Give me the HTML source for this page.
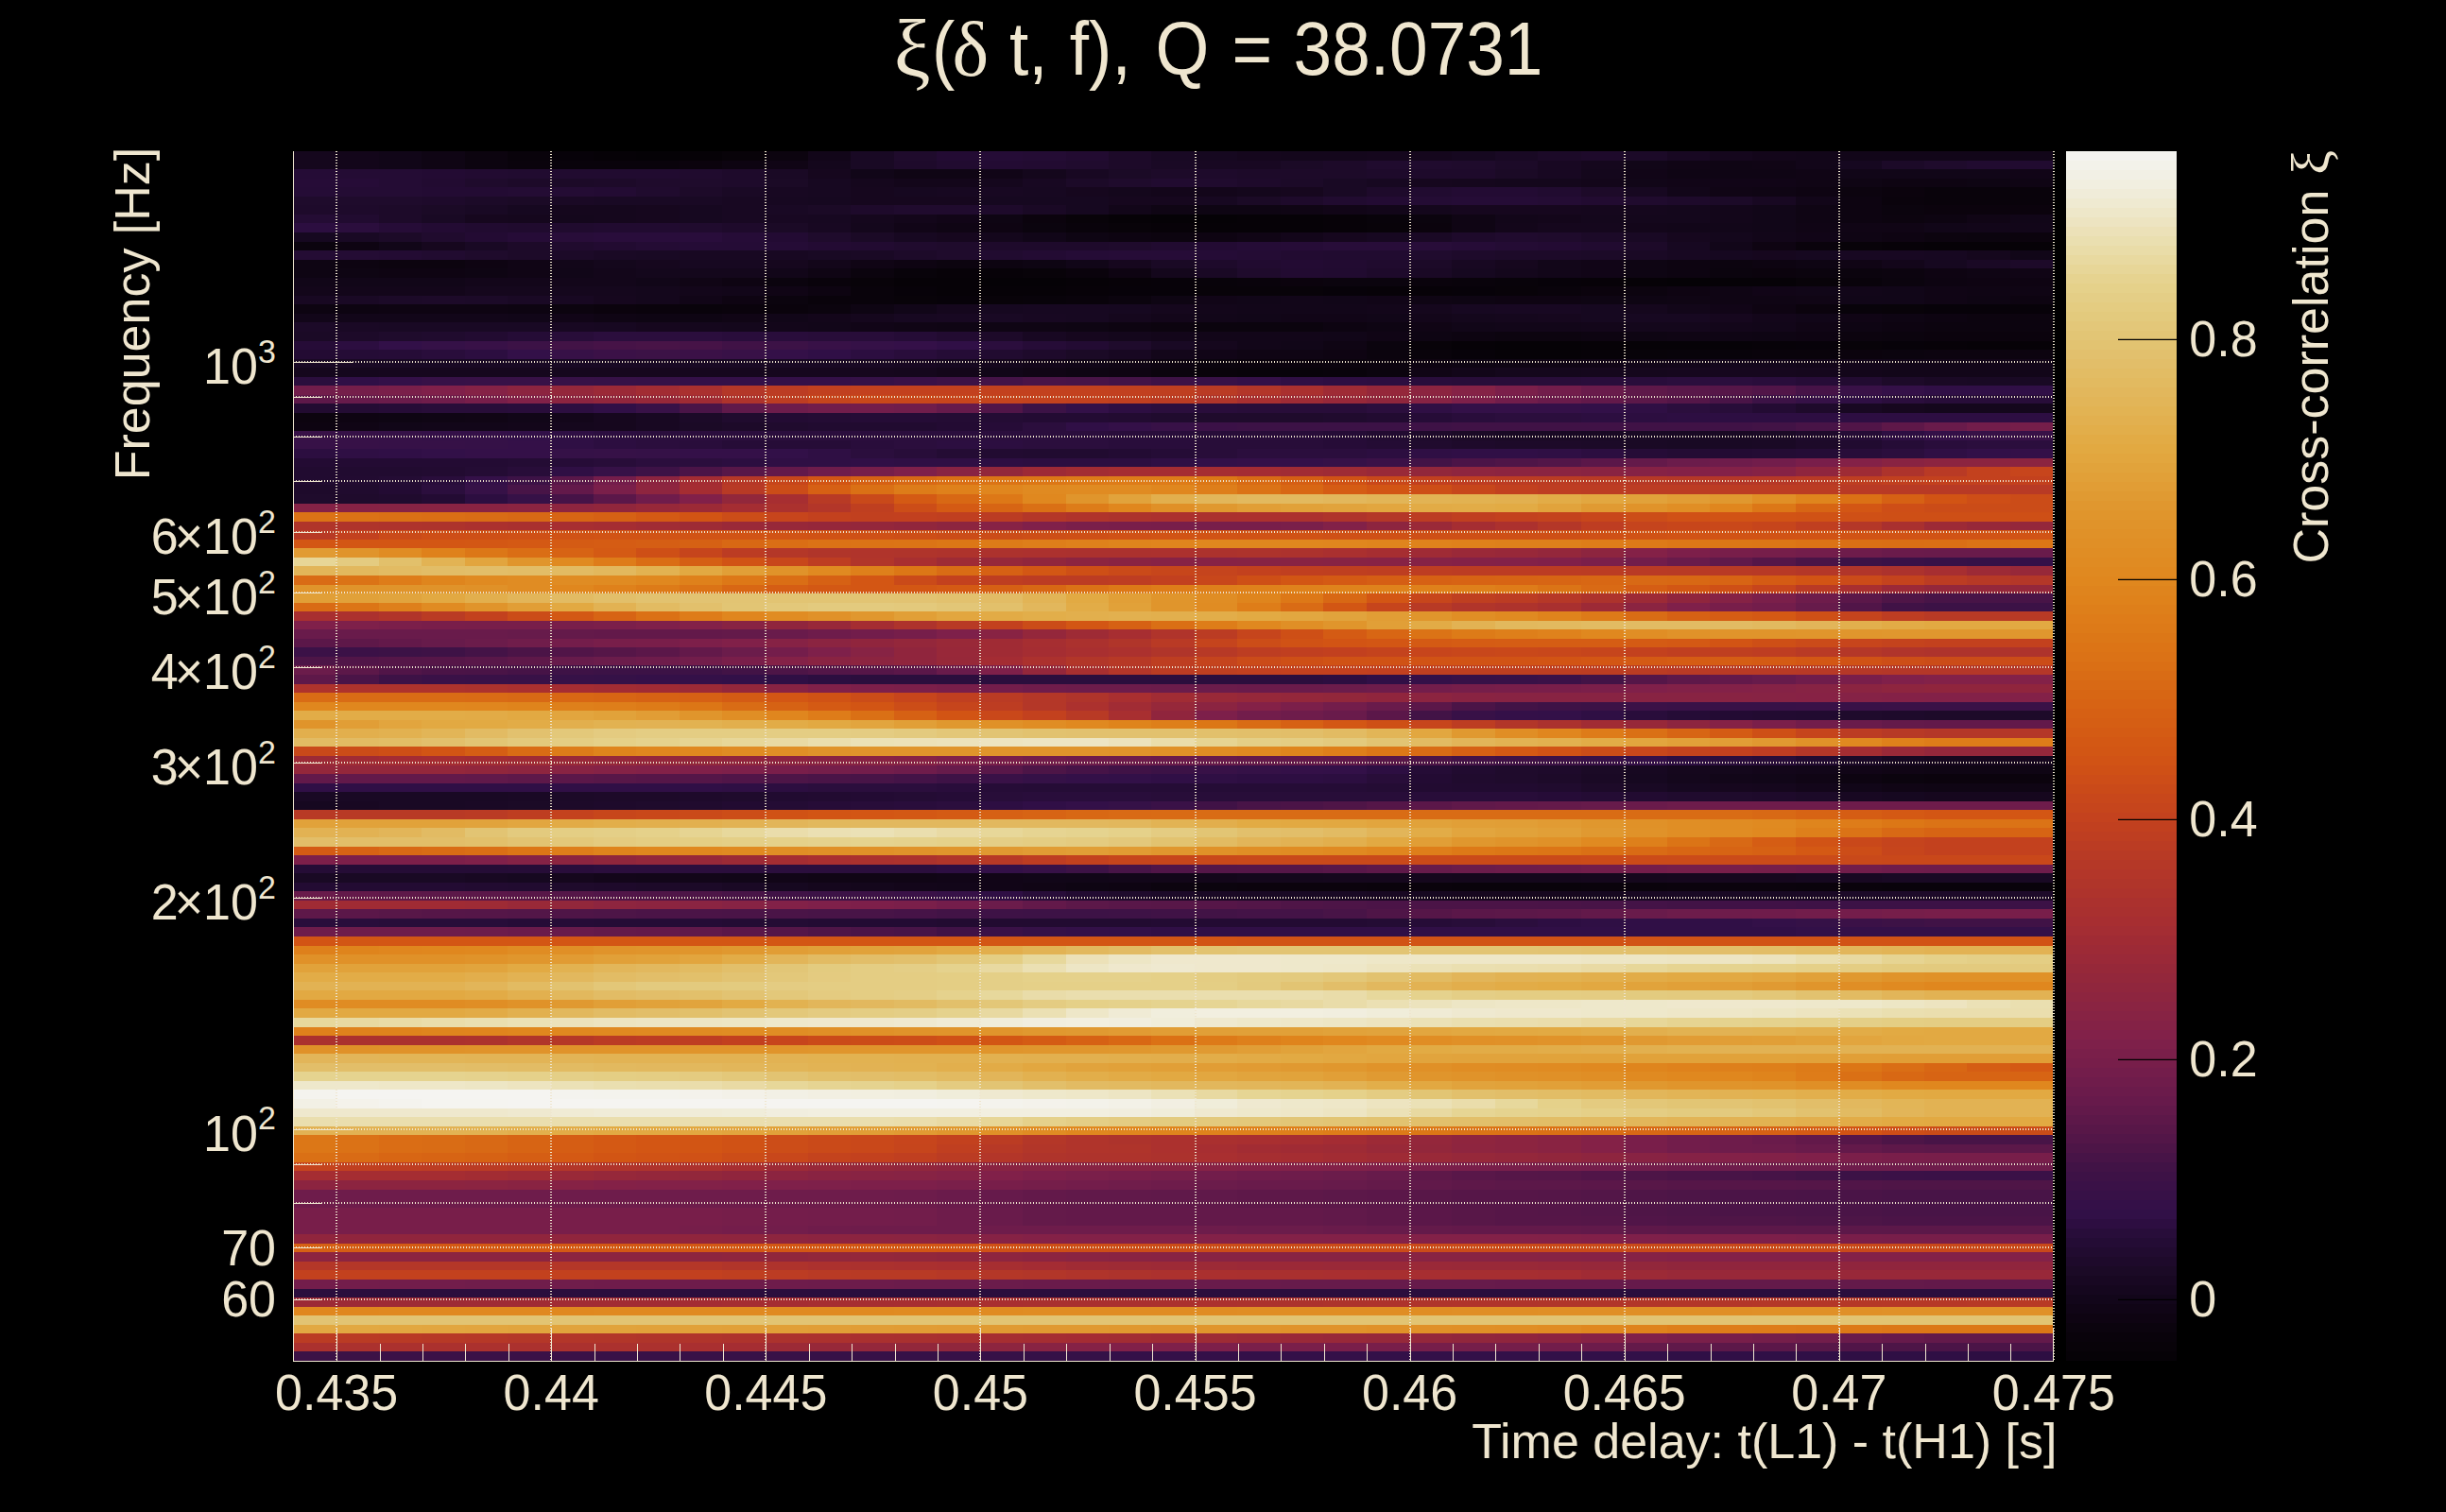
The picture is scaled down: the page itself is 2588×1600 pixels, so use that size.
<!DOCTYPE html>
<html><head><meta charset="utf-8"><style>html,body{margin:0;padding:0;background:#000;width:2588px;height:1600px;overflow:hidden;position:relative}#hm{position:absolute;left:310px;top:160px;width:1862px;height:1280px}#hm b{display:flex;width:100%}#hm i{flex:1 1 0;height:100%}.c0{background:#15071d}.c1{background:#13061a}.c2{background:#110618}.c3{background:#0f0514}.c4{background:#0c040f}.c5{background:#09030b}.c6{background:#070209}.c7{background:#060207}.c8{background:#050206}.c9{background:#080309}.c10{background:#120619}.c11{background:#190924}.c12{background:#1f0b2c}.c13{background:#230b33}.c14{background:#250c36}.c15{background:#240c34}.c16{background:#220b31}.c17{background:#1d0a29}.c18{background:#160820}.c19{background:#14071c}.c20{background:#1c0a28}.c21{background:#1e0a2b}.c22{background:#180822}.c23{background:#0a030c}.c24{background:#0b030d}.c25{background:#0d0411}.c26{background:#100515}.c27{background:#210b30}.c28{background:#200b2e}.c29{background:#1a0925}.c30{background:#1b0a26}.c31{background:#16071e}.c32{background:#110517}.c33{background:#260c37}.c34{background:#170821}.c35{background:#0e0412}.c36{background:#0e0513}.c37{background:#0b040e}.c38{background:#070208}.c39{background:#08030a}.c40{background:#2c0e40}.c41{background:#2b0e3d}.c42{background:#280d39}.c43{background:#290d3b}.c44{background:#321048}.c45{background:#351147}.c46{background:#381147}.c47{background:#3c1246}.c48{background:#421346}.c49{background:#461347}.c50{background:#481447}.c51{background:#401246}.c52{background:#341048}.c53{background:#300f46}.c54{background:#331048}.c55{background:#371147}.c56{background:#3b1147}.c57{background:#361147}.c58{background:#391147}.c59{background:#3d1246}.c60{background:#441347}.c61{background:#4a1447}.c62{background:#2f0f44}.c63{background:#2d0e42}.c64{background:#721d4b}.c65{background:#751e4a}.c66{background:#7a1f4a}.c67{background:#80204a}.c68{background:#852246}.c69{background:#8c2440}.c70{background:#94273b}.c71{background:#9b2937}.c72{background:#a22c33}.c73{background:#aa302f}.c74{background:#b43728}.c75{background:#bc3c23}.c76{background:#c1401f}.c77{background:#c3411e}.c78{background:#c2401f}.c79{background:#bf3f20}.c80{background:#ba3b24}.c81{background:#b33629}.c82{background:#9f2b35}.c83{background:#95273a}.c84{background:#7b1f4a}.c85{background:#691b4b}.c86{background:#5e1849}.c87{background:#591749}.c88{background:#561648}.c89{background:#511548}.c90{background:#671b4b}.c91{background:#6b1c4b}.c92{background:#701d4b}.c93{background:#781e4a}.c94{background:#822148}.c95{background:#91263c}.c96{background:#972839}.c97{background:#a02b34}.c98{background:#ae332c}.c99{background:#bd3d22}.c100{background:#c6451c}.c101{background:#c9481a}.c102{background:#c8471b}.c103{background:#c7451c}.c104{background:#c5441d}.c105{background:#c4421e}.c106{background:#c03f20}.c107{background:#bb3c23}.c108{background:#b0352a}.c109{background:#a82f30}.c110{background:#982839}.c111{background:#90263c}.c112{background:#872344}.c113{background:#7e204a}.c114{background:#6a1b4b}.c115{background:#63194a}.c116{background:#5c1849}.c117{background:#551648}.c118{background:#60194a}.c119{background:#6d1c4b}.c120{background:#731d4b}.c121{background:#661a4b}.c122{background:#3e1246}.c123{background:#4b1447}.c124{background:#4f1547}.c125{background:#531648}.c126{background:#5b1749}.c127{background:#641a4a}.c128{background:#6e1c4b}.c129{background:#791e4a}.c130{background:#842147}.c131{background:#892342}.c132{background:#581748}.c133{background:#761e4a}.c134{background:#7f204a}.c135{background:#882343}.c136{background:#92273b}.c137{background:#9d2a36}.c138{background:#a52d32}.c139{background:#a42c33}.c140{background:#a12c34}.c141{background:#9e2b35}.c142{background:#992938}.c143{background:#8e253f}.c144{background:#8b2441}.c145{background:#862245}.c146{background:#832148}.c147{background:#8f253e}.c148{background:#ad332c}.c149{background:#b93a25}.c150{background:#741d4b}.c151{background:#b63827}.c152{background:#c7461b}.c153{background:#d25514}.c154{background:#d66114}.c155{background:#d86915}.c156{background:#da6f15}.c157{background:#db7416}.c158{background:#dc7716}.c159{background:#dd7a18}.c160{background:#de7c19}.c161{background:#d96b15}.c162{background:#d55f14}.c163{background:#d05215}.c164{background:#be3d22}.c165{background:#b73926}.c166{background:#b53827}.c167{background:#be3e21}.c168{background:#b83a25}.c169{background:#cb4c18}.c170{background:#d66014}.c171{background:#da7015}.c172{background:#dd7c19}.c173{background:#df811b}.c174{background:#e0861e}.c175{background:#e08a21}.c176{background:#e08b22}.c177{background:#e0871e}.c178{background:#de7e1a}.c179{background:#db7316}.c180{background:#d86714}.c181{background:#d55c14}.c182{background:#cd4e17}.c183{background:#6f1c4b}.c184{background:#812049}.c185{background:#a72e31}.c186{background:#c9491a}.c187{background:#d45a14}.c188{background:#d86814}.c189{background:#dd7817}.c190{background:#e0881f}.c191{background:#e0952c}.c192{background:#e1a33c}.c193{background:#e2af4d}.c194{background:#e2b65a}.c195{background:#e2b95f}.c196{background:#e2b75c}.c197{background:#e2b557}.c198{background:#e2b354}.c199{background:#e2b251}.c200{background:#e2b04f}.c201{background:#e2ac47}.c202{background:#e2a740}.c203{background:#e1a23a}.c204{background:#e19d35}.c205{background:#e0982f}.c206{background:#e08f26}.c207{background:#df851d}.c208{background:#db7115}.c209{background:#d25414}.c210{background:#ce4e17}.c211{background:#872245}.c212{background:#9c2a36}.c213{background:#ab312e}.c214{background:#cc4d18}.c215{background:#d76514}.c216{background:#e09027}.c217{background:#e19e36}.c218{background:#e1a139}.c219{background:#e2a63f}.c220{background:#e2ab46}.c221{background:#e2ab44}.c222{background:#e09a32}.c223{background:#e0932a}.c224{background:#e08e25}.c225{background:#dc7717}.c226{background:#d35614}.c227{background:#db7216}.c228{background:#da6e15}.c229{background:#d96c15}.c230{background:#b0342b}.c231{background:#ac312e}.c232{background:#af342b}.c233{background:#c4431d}.c234{background:#d05116}.c235{background:#d15315}.c236{background:#cf5016}.c237{background:#ce4f16}.c238{background:#a9302f}.c239{background:#9a2938}.c240{background:#8d253f}.c241{background:#ca4a19}.c242{background:#d35714}.c243{background:#d45914}.c244{background:#d45b14}.c245{background:#d55e14}.c246{background:#dd7b18}.c247{background:#df841c}.c248{background:#e0851d}.c249{background:#df831c}.c250{background:#de801b}.c251{background:#de7d19}.c252{background:#dc7616}.c253{background:#e19b33}.c254{background:#e0942b}.c255{background:#e08c23}.c256{background:#d76314}.c257{background:#ac322d}.c258{background:#a62e31}.c259{background:#7d1f4a}.c260{background:#e7d697}.c261{background:#e4cb80}.c262{background:#e2c06b}.c263{background:#e2a53e}.c264{background:#da6d15}.c265{background:#b1352a}.c266{background:#96283a}.c267{background:#3a1147}.c268{background:#e2b559}.c269{background:#e2b85e}.c270{background:#e2bb63}.c271{background:#e2bd67}.c272{background:#e2be69}.c273{background:#e2b85d}.c274{background:#e2a942}.c275{background:#e19f37}.c276{background:#d25614}.c277{background:#d76414}.c278{background:#cb4b19}.c279{background:#e09128}.c280{background:#d55d14}.c281{background:#d35814}.c282{background:#dd7917}.c283{background:#df821c}.c284{background:#d96a15}.c285{background:#e1a43d}.c286{background:#e2bf6a}.c287{background:#e2c26f}.c288{background:#e2c372}.c289{background:#e2c473}.c290{background:#e2c16e}.c291{background:#e2bc65}.c292{background:#e2b456}.c293{background:#e2aa43}.c294{background:#e08d24}.c295{background:#90253d}.c296{background:#dc7516}.c297{background:#e2b253}.c298{background:#e2bb62}.c299{background:#e2c06c}.c300{background:#e2c574}.c301{background:#e3c87a}.c302{background:#e3ca7e}.c303{background:#e3c97c}.c304{background:#e2c677}.c305{background:#e0972e}.c306{background:#e2ae4a}.c307{background:#e2ad49}.c308{background:#d86614}.c309{background:#de7f1a}.c310{background:#e09229}.c311{background:#e0962d}.c312{background:#a92f30}.c313{background:#4d1547}.c314{background:#b23629}.c315{background:#d66214}.c316{background:#e08920}.c317{background:#e2b150}.c318{background:#e4cd83}.c319{background:#e4cc82}.c320{background:#e3c778}.c321{background:#e09930}.c322{background:#e2bd66}.c323{background:#e5d088}.c324{background:#e5d28d}.c325{background:#e6d492}.c326{background:#e7d799}.c327{background:#e9daa4}.c328{background:#eadeae}.c329{background:#ebe1b6}.c330{background:#ece1b8}.c331{background:#ece2bb}.c332{background:#ede4c0}.c333{background:#ede5c3}.c334{background:#eaddab}.c335{background:#e4cf87}.c336{background:#e09931}.c337{background:#61194a}.c338{background:#e2ae4c}.c339{background:#e2a841}.c340{background:#e4ce84}.c341{background:#e5d18a}.c342{background:#e7d89c}.c343{background:#ebe0b3}.c344{background:#e5d38f}.c345{background:#e4ce86}.c346{background:#e3c87b}.c347{background:#e2c370}.c348{background:#e19c34}.c349{background:#8a2442}.c350{background:#e1a038}.c351{background:#ede6c5}.c352{background:#efe8cd}.c353{background:#eee8cb}.c354{background:#eee7c8}.c355{background:#ece3bd}.c356{background:#eadfb0}.c357{background:#e8d9a1}.c358{background:#e3cb7f}.c359{background:#efe9d0}.c360{background:#e5d18b}.c361{background:#e1a33b}.c362{background:#e9dca9}.c363{background:#e6d594}.c364{background:#f0ebd5}.c365{background:#f1eedd}.c366{background:#f2efe0}.c367{background:#f1eedf}.c368{background:#f0edda}.c369{background:#e9dba6}.c370{background:#e2ba61}.c371{background:#f4f3ee}.c372{background:#f5f4f1}.c373{background:#f4f3ed}.c374{background:#f4f2eb}.c375{background:#f3f1e8}.c376{background:#f2f0e5}.c377{background:#f2efe2}.c378{background:#f5f4f0}.c379{background:#f3f2ea}.c380{background:#f3f1e7}.c381{background:#f0ecd8}</style></head><body>
<div id="hm"><b style="height:10px"><i class=c0></i><i class=c1></i><i class=c2></i><i class=c3></i><i class=c4></i><i class=c5></i><i class=c6></i><i class=c7></i><i class=c8></i><i class=c7></i><i class=c9></i><i class=c4></i><i class=c10></i><i class=c11></i><i class=c12></i><i class=c13></i><i class=c14></i><i class=c15></i><i class=c16></i><i class=c17></i><i class=c11></i><i class=c18></i><i class=c0></i><i class=c19></i><i class=c19></i><i class=c0></i><i class=c0></i><i class=c18></i><i class=c11></i><i class=c20></i><i class=c21></i><i class=c20></i><i class=c22></i><i class=c0></i><i class=c1></i><i class=c10></i><i class=c10></i><i class=c10></i><i class=c10></i><i class=c10></i><i class=c10></i></b><b style="height:9px"><i class=c0></i><i class=c1></i><i class=c2></i><i class=c3></i><i class=c4></i><i class=c23></i><i class=c5></i><i class=c5></i><i class=c5></i><i class=c24></i><i class=c25></i><i class=c26></i><i class=c19></i><i class=c11></i><i class=c21></i><i class=c27></i><i class=c13></i><i class=c16></i><i class=c28></i><i class=c17></i><i class=c29></i><i class=c22></i><i class=c22></i><i class=c30></i><i class=c17></i><i class=c28></i><i class=c28></i><i class=c12></i><i class=c20></i><i class=c22></i><i class=c0></i><i class=c2></i><i class=c26></i><i class=c3></i><i class=c26></i><i class=c10></i><i class=c18></i><i class=c20></i><i class=c12></i><i class=c27></i><i class=c27></i></b><b style="height:10px"><i class=c14></i><i class=c15></i><i class=c15></i><i class=c13></i><i class=c16></i><i class=c27></i><i class=c27></i><i class=c27></i><i class=c27></i><i class=c28></i><i class=c21></i><i class=c29></i><i class=c31></i><i class=c2></i><i class=c3></i><i class=c3></i><i class=c32></i><i class=c19></i><i class=c22></i><i class=c30></i><i class=c17></i><i class=c21></i><i class=c17></i><i class=c17></i><i class=c17></i><i class=c21></i><i class=c21></i><i class=c21></i><i class=c30></i><i class=c22></i><i class=c19></i><i class=c32></i><i class=c3></i><i class=c3></i><i class=c3></i><i class=c26></i><i class=c2></i><i class=c2></i><i class=c2></i><i class=c2></i><i class=c32></i></b><b style="height:9px"><i class=c33></i><i class=c33></i><i class=c15></i><i class=c16></i><i class=c12></i><i class=c17></i><i class=c20></i><i class=c17></i><i class=c12></i><i class=c12></i><i class=c21></i><i class=c30></i><i class=c34></i><i class=c0></i><i class=c1></i><i class=c1></i><i class=c0></i><i class=c22></i><i class=c20></i><i class=c12></i><i class=c27></i><i class=c28></i><i class=c21></i><i class=c20></i><i class=c11></i><i class=c34></i><i class=c31></i><i class=c0></i><i class=c19></i><i class=c19></i><i class=c1></i><i class=c2></i><i class=c32></i><i class=c32></i><i class=c32></i><i class=c26></i><i class=c3></i><i class=c35></i><i class=c35></i><i class=c36></i><i class=c3></i></b><b style="height:10px"><i class=c14></i><i class=c15></i><i class=c15></i><i class=c13></i><i class=c13></i><i class=c15></i><i class=c15></i><i class=c13></i><i class=c28></i><i class=c17></i><i class=c29></i><i class=c22></i><i class=c34></i><i class=c31></i><i class=c18></i><i class=c34></i><i class=c22></i><i class=c34></i><i class=c31></i><i class=c19></i><i class=c1></i><i class=c1></i><i class=c19></i><i class=c31></i><i class=c11></i><i class=c21></i><i class=c27></i><i class=c13></i><i class=c13></i><i class=c27></i><i class=c17></i><i class=c34></i><i class=c10></i><i class=c26></i><i class=c3></i><i class=c35></i><i class=c4></i><i class=c24></i><i class=c5></i><i class=c5></i><i class=c5></i></b><b style="height:9px"><i class=c12></i><i class=c12></i><i class=c12></i><i class=c21></i><i class=c20></i><i class=c30></i><i class=c29></i><i class=c11></i><i class=c11></i><i class=c11></i><i class=c22></i><i class=c34></i><i class=c18></i><i class=c31></i><i class=c31></i><i class=c31></i><i class=c18></i><i class=c18></i><i class=c18></i><i class=c31></i><i class=c31></i><i class=c34></i><i class=c30></i><i class=c21></i><i class=c27></i><i class=c13></i><i class=c15></i><i class=c14></i><i class=c14></i><i class=c15></i><i class=c16></i><i class=c28></i><i class=c21></i><i class=c20></i><i class=c22></i><i class=c10></i><i class=c25></i><i class=c23></i><i class=c5></i><i class=c5></i><i class=c5></i></b><b style="height:10px"><i class=c21></i><i class=c21></i><i class=c17></i><i class=c30></i><i class=c11></i><i class=c18></i><i class=c0></i><i class=c0></i><i class=c31></i><i class=c18></i><i class=c22></i><i class=c11></i><i class=c30></i><i class=c21></i><i class=c28></i><i class=c28></i><i class=c21></i><i class=c29></i><i class=c18></i><i class=c10></i><i class=c3></i><i class=c36></i><i class=c36></i><i class=c3></i><i class=c32></i><i class=c10></i><i class=c19></i><i class=c31></i><i class=c31></i><i class=c31></i><i class=c0></i><i class=c0></i><i class=c19></i><i class=c1></i><i class=c2></i><i class=c3></i><i class=c25></i><i class=c37></i><i class=c24></i><i class=c24></i><i class=c24></i></b><b style="height:9px"><i class=c15></i><i class=c27></i><i class=c17></i><i class=c11></i><i class=c31></i><i class=c0></i><i class=c19></i><i class=c0></i><i class=c31></i><i class=c18></i><i class=c22></i><i class=c22></i><i class=c34></i><i class=c0></i><i class=c1></i><i class=c32></i><i class=c36></i><i class=c24></i><i class=c9></i><i class=c7></i><i class=c8></i><i class=c8></i><i class=c7></i><i class=c7></i><i class=c38></i><i class=c39></i><i class=c37></i><i class=c3></i><i class=c10></i><i class=c1></i><i class=c19></i><i class=c19></i><i class=c19></i><i class=c1></i><i class=c2></i><i class=c3></i><i class=c25></i><i class=c4></i><i class=c25></i><i class=c26></i><i class=c2></i></b><b style="height:10px"><i class=c40></i><i class=c41></i><i class=c33></i><i class=c13></i><i class=c27></i><i class=c28></i><i class=c28></i><i class=c27></i><i class=c27></i><i class=c28></i><i class=c21></i><i class=c30></i><i class=c22></i><i class=c19></i><i class=c32></i><i class=c3></i><i class=c35></i><i class=c37></i><i class=c5></i><i class=c9></i><i class=c38></i><i class=c7></i><i class=c7></i><i class=c7></i><i class=c38></i><i class=c9></i><i class=c24></i><i class=c3></i><i class=c1></i><i class=c0></i><i class=c0></i><i class=c1></i><i class=c10></i><i class=c10></i><i class=c2></i><i class=c26></i><i class=c26></i><i class=c26></i><i class=c2></i><i class=c10></i><i class=c10></i></b><b style="height:10px"><i class=c18></i><i class=c11></i><i class=c20></i><i class=c28></i><i class=c13></i><i class=c33></i><i class=c42></i><i class=c43></i><i class=c43></i><i class=c43></i><i class=c33></i><i class=c13></i><i class=c12></i><i class=c30></i><i class=c34></i><i class=c31></i><i class=c19></i><i class=c2></i><i class=c36></i><i class=c25></i><i class=c4></i><i class=c35></i><i class=c26></i><i class=c1></i><i class=c31></i><i class=c34></i><i class=c29></i><i class=c21></i><i class=c28></i><i class=c12></i><i class=c20></i><i class=c11></i><i class=c31></i><i class=c19></i><i class=c10></i><i class=c32></i><i class=c3></i><i class=c35></i><i class=c4></i><i class=c37></i><i class=c24></i></b><b style="height:9px"><i class=c37></i><i class=c35></i><i class=c2></i><i class=c31></i><i class=c11></i><i class=c17></i><i class=c28></i><i class=c16></i><i class=c15></i><i class=c14></i><i class=c14></i><i class=c14></i><i class=c13></i><i class=c16></i><i class=c28></i><i class=c12></i><i class=c21></i><i class=c21></i><i class=c21></i><i class=c12></i><i class=c27></i><i class=c13></i><i class=c14></i><i class=c33></i><i class=c42></i><i class=c42></i><i class=c42></i><i class=c33></i><i class=c15></i><i class=c13></i><i class=c27></i><i class=c17></i><i class=c34></i><i class=c10></i><i class=c35></i><i class=c23></i><i class=c9></i><i class=c38></i><i class=c7></i><i class=c7></i><i class=c7></i></b><b style="height:10px"><i class=c15></i><i class=c15></i><i class=c13></i><i class=c27></i><i class=c12></i><i class=c17></i><i class=c20></i><i class=c29></i><i class=c11></i><i class=c22></i><i class=c22></i><i class=c22></i><i class=c11></i><i class=c29></i><i class=c17></i><i class=c12></i><i class=c27></i><i class=c13></i><i class=c14></i><i class=c33></i><i class=c33></i><i class=c14></i><i class=c15></i><i class=c16></i><i class=c27></i><i class=c27></i><i class=c28></i><i class=c21></i><i class=c17></i><i class=c17></i><i class=c20></i><i class=c29></i><i class=c22></i><i class=c18></i><i class=c31></i><i class=c18></i><i class=c22></i><i class=c22></i><i class=c34></i><i class=c0></i><i class=c2></i></b><b style="height:9px"><i class=c36></i><i class=c25></i><i class=c4></i><i class=c4></i><i class=c35></i><i class=c26></i><i class=c10></i><i class=c19></i><i class=c31></i><i class=c34></i><i class=c34></i><i class=c31></i><i class=c1></i><i class=c26></i><i class=c35></i><i class=c4></i><i class=c25></i><i class=c36></i><i class=c2></i><i class=c31></i><i class=c29></i><i class=c21></i><i class=c27></i><i class=c13></i><i class=c16></i><i class=c28></i><i class=c20></i><i class=c22></i><i class=c31></i><i class=c10></i><i class=c32></i><i class=c36></i><i class=c25></i><i class=c4></i><i class=c25></i><i class=c36></i><i class=c26></i><i class=c1></i><i class=c18></i><i class=c29></i><i class=c17></i></b><b style="height:10px"><i class=c36></i><i class=c36></i><i class=c35></i><i class=c35></i><i class=c36></i><i class=c26></i><i class=c2></i><i class=c1></i><i class=c19></i><i class=c19></i><i class=c19></i><i class=c10></i><i class=c3></i><i class=c37></i><i class=c39></i><i class=c38></i><i class=c38></i><i class=c9></i><i class=c23></i><i class=c35></i><i class=c19></i><i class=c29></i><i class=c12></i><i class=c16></i><i class=c27></i><i class=c21></i><i class=c29></i><i class=c18></i><i class=c19></i><i class=c10></i><i class=c32></i><i class=c36></i><i class=c25></i><i class=c37></i><i class=c24></i><i class=c37></i><i class=c37></i><i class=c4></i><i class=c35></i><i class=c3></i><i class=c26></i></b><b style="height:9px"><i class=c2></i><i class=c2></i><i class=c2></i><i class=c2></i><i class=c1></i><i class=c1></i><i class=c1></i><i class=c1></i><i class=c2></i><i class=c26></i><i class=c35></i><i class=c37></i><i class=c5></i><i class=c9></i><i class=c7></i><i class=c7></i><i class=c8></i><i class=c8></i><i class=c7></i><i class=c38></i><i class=c6></i><i class=c39></i><i class=c5></i><i class=c24></i><i class=c37></i><i class=c37></i><i class=c23></i><i class=c5></i><i class=c39></i><i class=c6></i><i class=c38></i><i class=c7></i><i class=c8></i><i class=c7></i><i class=c7></i><i class=c9></i><i class=c5></i><i class=c37></i><i class=c25></i><i class=c35></i><i class=c35></i></b><b style="height:10px"><i class=c1></i><i class=c1></i><i class=c1></i><i class=c1></i><i class=c0></i><i class=c0></i><i class=c0></i><i class=c0></i><i class=c19></i><i class=c1></i><i class=c10></i><i class=c26></i><i class=c25></i><i class=c5></i><i class=c6></i><i class=c7></i><i class=c7></i><i class=c7></i><i class=c38></i><i class=c6></i><i class=c6></i><i class=c9></i><i class=c9></i><i class=c9></i><i class=c6></i><i class=c38></i><i class=c38></i><i class=c6></i><i class=c9></i><i class=c5></i><i class=c24></i><i class=c4></i><i class=c35></i><i class=c3></i><i class=c32></i><i class=c2></i><i class=c10></i><i class=c2></i><i class=c26></i><i class=c3></i><i class=c3></i></b><b style="height:9px"><i class=c22></i><i class=c29></i><i class=c20></i><i class=c17></i><i class=c20></i><i class=c29></i><i class=c22></i><i class=c31></i><i class=c19></i><i class=c32></i><i class=c35></i><i class=c37></i><i class=c5></i><i class=c5></i><i class=c9></i><i class=c6></i><i class=c9></i><i class=c39></i><i class=c5></i><i class=c37></i><i class=c36></i><i class=c32></i><i class=c2></i><i class=c10></i><i class=c2></i><i class=c32></i><i class=c3></i><i class=c36></i><i class=c35></i><i class=c35></i><i class=c36></i><i class=c36></i><i class=c3></i><i class=c3></i><i class=c3></i><i class=c26></i><i class=c2></i><i class=c2></i><i class=c26></i><i class=c36></i><i class=c25></i></b><b style="height:10px"><i class=c25></i><i class=c25></i><i class=c35></i><i class=c35></i><i class=c35></i><i class=c25></i><i class=c4></i><i class=c24></i><i class=c23></i><i class=c5></i><i class=c23></i><i class=c23></i><i class=c37></i><i class=c36></i><i class=c2></i><i class=c0></i><i class=c18></i><i class=c34></i><i class=c34></i><i class=c18></i><i class=c0></i><i class=c1></i><i class=c10></i><i class=c10></i><i class=c10></i><i class=c1></i><i class=c0></i><i class=c34></i><i class=c22></i><i class=c22></i><i class=c18></i><i class=c0></i><i class=c10></i><i class=c32></i><i class=c35></i><i class=c24></i><i class=c39></i><i class=c9></i><i class=c6></i><i class=c6></i><i class=c6></i></b><b style="height:9px"><i class=c10></i><i class=c10></i><i class=c10></i><i class=c10></i><i class=c10></i><i class=c2></i><i class=c32></i><i class=c3></i><i class=c36></i><i class=c36></i><i class=c26></i><i class=c2></i><i class=c1></i><i class=c0></i><i class=c34></i><i class=c22></i><i class=c11></i><i class=c22></i><i class=c34></i><i class=c0></i><i class=c1></i><i class=c10></i><i class=c2></i><i class=c32></i><i class=c32></i><i class=c2></i><i class=c1></i><i class=c19></i><i class=c0></i><i class=c31></i><i class=c18></i><i class=c34></i><i class=c34></i><i class=c31></i><i class=c1></i><i class=c2></i><i class=c26></i><i class=c36></i><i class=c25></i><i class=c4></i><i class=c4></i></b><b style="height:10px"><i class=c20></i><i class=c29></i><i class=c11></i><i class=c11></i><i class=c11></i><i class=c11></i><i class=c22></i><i class=c34></i><i class=c31></i><i class=c0></i><i class=c19></i><i class=c1></i><i class=c10></i><i class=c32></i><i class=c26></i><i class=c3></i><i class=c3></i><i class=c3></i><i class=c36></i><i class=c25></i><i class=c4></i><i class=c37></i><i class=c37></i><i class=c37></i><i class=c25></i><i class=c36></i><i class=c26></i><i class=c2></i><i class=c10></i><i class=c10></i><i class=c1></i><i class=c19></i><i class=c19></i><i class=c1></i><i class=c10></i><i class=c26></i><i class=c36></i><i class=c25></i><i class=c4></i><i class=c4></i><i class=c4></i></b><b style="height:10px"><i class=c30></i><i class=c17></i><i class=c12></i><i class=c28></i><i class=c16></i><i class=c14></i><i class=c42></i><i class=c41></i><i class=c41></i><i class=c41></i><i class=c43></i><i class=c43></i><i class=c42></i><i class=c42></i><i class=c14></i><i class=c16></i><i class=c17></i><i class=c22></i><i class=c31></i><i class=c19></i><i class=c1></i><i class=c10></i><i class=c10></i><i class=c10></i><i class=c2></i><i class=c26></i><i class=c36></i><i class=c25></i><i class=c4></i><i class=c4></i><i class=c25></i><i class=c36></i><i class=c3></i><i class=c3></i><i class=c36></i><i class=c35></i><i class=c4></i><i class=c37></i><i class=c24></i><i class=c24></i><i class=c24></i></b><b style="height:9px"><i class=c33></i><i class=c40></i><i class=c44></i><i class=c45></i><i class=c46></i><i class=c47></i><i class=c48></i><i class=c49></i><i class=c50></i><i class=c49></i><i class=c51></i><i class=c47></i><i class=c46></i><i class=c45></i><i class=c52></i><i class=c53></i><i class=c41></i><i class=c33></i><i class=c13></i><i class=c12></i><i class=c11></i><i class=c0></i><i class=c10></i><i class=c2></i><i class=c3></i><i class=c37></i><i class=c9></i><i class=c7></i><i class=c8></i><i class=c8></i><i class=c7></i><i class=c7></i><i class=c7></i><i class=c7></i><i class=c38></i><i class=c6></i><i class=c9></i><i class=c6></i><i class=c38></i><i class=c7></i><i class=c7></i></b><b style="height:10px"><i class=c13></i><i class=c14></i><i class=c33></i><i class=c43></i><i class=c40></i><i class=c54></i><i class=c55></i><i class=c56></i><i class=c47></i><i class=c56></i><i class=c46></i><i class=c52></i><i class=c53></i><i class=c40></i><i class=c43></i><i class=c14></i><i class=c27></i><i class=c21></i><i class=c30></i><i class=c22></i><i class=c1></i><i class=c32></i><i class=c3></i><i class=c3></i><i class=c35></i><i class=c37></i><i class=c5></i><i class=c6></i><i class=c7></i><i class=c7></i><i class=c38></i><i class=c9></i><i class=c39></i><i class=c39></i><i class=c5></i><i class=c5></i><i class=c24></i><i class=c37></i><i class=c4></i><i class=c4></i><i class=c4></i></b><b style="height:9px"><i class=c11></i><i class=c11></i><i class=c11></i><i class=c11></i><i class=c11></i><i class=c11></i><i class=c11></i><i class=c11></i><i class=c11></i><i class=c11></i><i class=c11></i><i class=c11></i><i class=c11></i><i class=c11></i><i class=c22></i><i class=c18></i><i class=c0></i><i class=c1></i><i class=c2></i><i class=c26></i><i class=c25></i><i class=c37></i><i class=c24></i><i class=c24></i><i class=c37></i><i class=c4></i><i class=c35></i><i class=c36></i><i class=c3></i><i class=c26></i><i class=c32></i><i class=c10></i><i class=c1></i><i class=c19></i><i class=c19></i><i class=c1></i><i class=c1></i><i class=c10></i><i class=c10></i><i class=c10></i><i class=c10></i></b><b style="height:10px"><i class=c0></i><i class=c0></i><i class=c31></i><i class=c31></i><i class=c31></i><i class=c31></i><i class=c31></i><i class=c31></i><i class=c31></i><i class=c31></i><i class=c31></i><i class=c31></i><i class=c31></i><i class=c31></i><i class=c0></i><i class=c1></i><i class=c2></i><i class=c26></i><i class=c36></i><i class=c35></i><i class=c37></i><i class=c5></i><i class=c39></i><i class=c39></i><i class=c5></i><i class=c37></i><i class=c26></i><i class=c10></i><i class=c19></i><i class=c19></i><i class=c0></i><i class=c0></i><i class=c31></i><i class=c31></i><i class=c31></i><i class=c0></i><i class=c1></i><i class=c10></i><i class=c10></i><i class=c10></i><i class=c10></i></b><b style="height:9px"><i class=c41></i><i class=c53></i><i class=c52></i><i class=c55></i><i class=c46></i><i class=c46></i><i class=c55></i><i class=c57></i><i class=c45></i><i class=c52></i><i class=c52></i><i class=c52></i><i class=c52></i><i class=c45></i><i class=c58></i><i class=c59></i><i class=c60></i><i class=c61></i><i class=c50></i><i class=c60></i><i class=c59></i><i class=c46></i><i class=c52></i><i class=c62></i><i class=c63></i><i class=c40></i><i class=c43></i><i class=c42></i><i class=c42></i><i class=c42></i><i class=c43></i><i class=c43></i><i class=c41></i><i class=c41></i><i class=c43></i><i class=c33></i><i class=c16></i><i class=c17></i><i class=c29></i><i class=c11></i><i class=c11></i></b><b style="height:10px"><i class=c64></i><i class=c65></i><i class=c66></i><i class=c67></i><i class=c68></i><i class=c69></i><i class=c70></i><i class=c71></i><i class=c72></i><i class=c73></i><i class=c74></i><i class=c75></i><i class=c76></i><i class=c77></i><i class=c77></i><i class=c77></i><i class=c77></i><i class=c77></i><i class=c77></i><i class=c78></i><i class=c79></i><i class=c80></i><i class=c81></i><i class=c73></i><i class=c82></i><i class=c83></i><i class=c69></i><i class=c68></i><i class=c84></i><i class=c64></i><i class=c85></i><i class=c86></i><i class=c87></i><i class=c88></i><i class=c89></i><i class=c49></i><i class=c58></i><i class=c52></i><i class=c53></i><i class=c53></i><i class=c53></i></b><b style="height:9px"><i class=c86></i><i class=c90></i><i class=c91></i><i class=c92></i><i class=c93></i><i class=c94></i><i class=c69></i><i class=c95></i><i class=c96></i><i class=c97></i><i class=c98></i><i class=c99></i><i class=c100></i><i class=c101></i><i class=c102></i><i class=c103></i><i class=c104></i><i class=c105></i><i class=c77></i><i class=c106></i><i class=c107></i><i class=c108></i><i class=c109></i><i class=c82></i><i class=c110></i><i class=c111></i><i class=c112></i><i class=c113></i><i class=c64></i><i class=c114></i><i class=c115></i><i class=c116></i><i class=c117></i><i class=c61></i><i class=c47></i><i class=c57></i><i class=c62></i><i class=c41></i><i class=c42></i><i class=c42></i><i class=c42></i></b><b style="height:10px"><i class=c16></i><i class=c15></i><i class=c33></i><i class=c42></i><i class=c42></i><i class=c43></i><i class=c40></i><i class=c53></i><i class=c46></i><i class=c61></i><i class=c118></i><i class=c119></i><i class=c64></i><i class=c120></i><i class=c92></i><i class=c121></i><i class=c89></i><i class=c47></i><i class=c54></i><i class=c63></i><i class=c41></i><i class=c43></i><i class=c42></i><i class=c42></i><i class=c42></i><i class=c41></i><i class=c62></i><i class=c54></i><i class=c52></i><i class=c52></i><i class=c44></i><i class=c62></i><i class=c41></i><i class=c42></i><i class=c13></i><i class=c21></i><i class=c22></i><i class=c31></i><i class=c19></i><i class=c19></i><i class=c19></i></b><b style="height:10px"><i class=c4></i><i class=c35></i><i class=c36></i><i class=c3></i><i class=c26></i><i class=c2></i><i class=c1></i><i class=c31></i><i class=c22></i><i class=c20></i><i class=c28></i><i class=c13></i><i class=c15></i><i class=c14></i><i class=c14></i><i class=c15></i><i class=c15></i><i class=c13></i><i class=c13></i><i class=c16></i><i class=c28></i><i class=c12></i><i class=c12></i><i class=c12></i><i class=c28></i><i class=c16></i><i class=c33></i><i class=c43></i><i class=c41></i><i class=c41></i><i class=c40></i><i class=c40></i><i class=c63></i><i class=c63></i><i class=c63></i><i class=c63></i><i class=c63></i><i class=c63></i><i class=c63></i><i class=c63></i><i class=c63></i></b><b style="height:9px"><i class=c25></i><i class=c26></i><i class=c2></i><i class=c10></i><i class=c10></i><i class=c1></i><i class=c0></i><i class=c31></i><i class=c22></i><i class=c30></i><i class=c17></i><i class=c28></i><i class=c27></i><i class=c27></i><i class=c27></i><i class=c13></i><i class=c33></i><i class=c41></i><i class=c53></i><i class=c52></i><i class=c46></i><i class=c56></i><i class=c47></i><i class=c47></i><i class=c47></i><i class=c47></i><i class=c122></i><i class=c51></i><i class=c51></i><i class=c51></i><i class=c51></i><i class=c51></i><i class=c51></i><i class=c51></i><i class=c48></i><i class=c50></i><i class=c89></i><i class=c86></i><i class=c85></i><i class=c64></i><i class=c65></i></b><b style="height:10px"><i class=c46></i><i class=c57></i><i class=c45></i><i class=c52></i><i class=c52></i><i class=c44></i><i class=c62></i><i class=c40></i><i class=c41></i><i class=c41></i><i class=c41></i><i class=c41></i><i class=c41></i><i class=c41></i><i class=c41></i><i class=c41></i><i class=c41></i><i class=c41></i><i class=c41></i><i class=c43></i><i class=c43></i><i class=c42></i><i class=c42></i><i class=c42></i><i class=c14></i><i class=c16></i><i class=c21></i><i class=c30></i><i class=c11></i><i class=c11></i><i class=c11></i><i class=c11></i><i class=c11></i><i class=c11></i><i class=c30></i><i class=c21></i><i class=c14></i><i class=c63></i><i class=c52></i><i class=c55></i><i class=c46></i></b><b style="height:9px"><i class=c55></i><i class=c55></i><i class=c57></i><i class=c57></i><i class=c45></i><i class=c52></i><i class=c62></i><i class=c40></i><i class=c41></i><i class=c43></i><i class=c33></i><i class=c33></i><i class=c33></i><i class=c43></i><i class=c41></i><i class=c40></i><i class=c40></i><i class=c41></i><i class=c41></i><i class=c43></i><i class=c43></i><i class=c42></i><i class=c42></i><i class=c42></i><i class=c33></i><i class=c15></i><i class=c28></i><i class=c21></i><i class=c17></i><i class=c17></i><i class=c20></i><i class=c29></i><i class=c11></i><i class=c11></i><i class=c29></i><i class=c17></i><i class=c27></i><i class=c14></i><i class=c43></i><i class=c41></i><i class=c41></i></b><b style="height:10px"><i class=c40></i><i class=c62></i><i class=c53></i><i class=c44></i><i class=c52></i><i class=c52></i><i class=c45></i><i class=c57></i><i class=c45></i><i class=c52></i><i class=c52></i><i class=c44></i><i class=c62></i><i class=c41></i><i class=c42></i><i class=c15></i><i class=c16></i><i class=c27></i><i class=c27></i><i class=c13></i><i class=c14></i><i class=c42></i><i class=c41></i><i class=c41></i><i class=c41></i><i class=c40></i><i class=c62></i><i class=c53></i><i class=c53></i><i class=c62></i><i class=c40></i><i class=c33></i><i class=c15></i><i class=c13></i><i class=c15></i><i class=c14></i><i class=c42></i><i class=c41></i><i class=c62></i><i class=c44></i><i class=c52></i></b><b style="height:9px"><i class=c13></i><i class=c13></i><i class=c13></i><i class=c13></i><i class=c13></i><i class=c15></i><i class=c33></i><i class=c42></i><i class=c41></i><i class=c41></i><i class=c40></i><i class=c62></i><i class=c62></i><i class=c53></i><i class=c62></i><i class=c62></i><i class=c63></i><i class=c40></i><i class=c40></i><i class=c40></i><i class=c62></i><i class=c44></i><i class=c52></i><i class=c52></i><i class=c57></i><i class=c56></i><i class=c48></i><i class=c123></i><i class=c124></i><i class=c125></i><i class=c126></i><i class=c127></i><i class=c91></i><i class=c128></i><i class=c64></i><i class=c129></i><i class=c130></i><i class=c131></i><i class=c69></i><i class=c69></i><i class=c69></i></b><b style="height:10px"><i class=c27></i><i class=c27></i><i class=c27></i><i class=c16></i><i class=c15></i><i class=c42></i><i class=c62></i><i class=c57></i><i class=c59></i><i class=c123></i><i class=c132></i><i class=c115></i><i class=c128></i><i class=c133></i><i class=c134></i><i class=c135></i><i class=c136></i><i class=c137></i><i class=c72></i><i class=c138></i><i class=c138></i><i class=c138></i><i class=c139></i><i class=c140></i><i class=c141></i><i class=c142></i><i class=c136></i><i class=c143></i><i class=c69></i><i class=c144></i><i class=c131></i><i class=c145></i><i class=c130></i><i class=c146></i><i class=c145></i><i class=c147></i><i class=c141></i><i class=c148></i><i class=c149></i><i class=c77></i><i class=c103></i></b><b style="height:9px"><i class=c27></i><i class=c16></i><i class=c15></i><i class=c43></i><i class=c52></i><i class=c59></i><i class=c87></i><i class=c150></i><i class=c69></i><i class=c139></i><i class=c151></i><i class=c152></i><i class=c153></i><i class=c154></i><i class=c155></i><i class=c156></i><i class=c157></i><i class=c158></i><i class=c159></i><i class=c160></i><i class=c160></i><i class=c158></i><i class=c161></i><i class=c162></i><i class=c163></i><i class=c101></i><i class=c78></i><i class=c164></i><i class=c75></i><i class=c107></i><i class=c149></i><i class=c165></i><i class=c166></i><i class=c74></i><i class=c151></i><i class=c149></i><i class=c167></i><i class=c76></i><i class=c77></i><i class=c77></i><i class=c77></i></b><b style="height:10px"><i class=c21></i><i class=c28></i><i class=c13></i><i class=c41></i><i class=c57></i><i class=c50></i><i class=c115></i><i class=c66></i><i class=c143></i><i class=c138></i><i class=c168></i><i class=c169></i><i class=c170></i><i class=c171></i><i class=c172></i><i class=c173></i><i class=c174></i><i class=c175></i><i class=c176></i><i class=c176></i><i class=c177></i><i class=c178></i><i class=c179></i><i class=c180></i><i class=c181></i><i class=c153></i><i class=c182></i><i class=c152></i><i class=c78></i><i class=c164></i><i class=c75></i><i class=c75></i><i class=c75></i><i class=c75></i><i class=c75></i><i class=c107></i><i class=c149></i><i class=c168></i><i class=c168></i><i class=c168></i><i class=c168></i></b><b style="height:10px"><i class=c12></i><i class=c12></i><i class=c28></i><i class=c13></i><i class=c40></i><i class=c57></i><i class=c49></i><i class=c126></i><i class=c183></i><i class=c184></i><i class=c136></i><i class=c185></i><i class=c168></i><i class=c186></i><i class=c187></i><i class=c188></i><i class=c189></i><i class=c190></i><i class=c191></i><i class=c192></i><i class=c193></i><i class=c194></i><i class=c195></i><i class=c195></i><i class=c196></i><i class=c197></i><i class=c198></i><i class=c199></i><i class=c200></i><i class=c201></i><i class=c202></i><i class=c203></i><i class=c204></i><i class=c205></i><i class=c206></i><i class=c207></i><i class=c208></i><i class=c154></i><i class=c209></i><i class=c210></i><i class=c169></i></b><b style="height:9px"><i class=c68></i><i class=c211></i><i class=c112></i><i class=c135></i><i class=c131></i><i class=c144></i><i class=c143></i><i class=c95></i><i class=c96></i><i class=c212></i><i class=c138></i><i class=c213></i><i class=c81></i><i class=c79></i><i class=c214></i><i class=c187></i><i class=c215></i><i class=c171></i><i class=c172></i><i class=c177></i><i class=c216></i><i class=c205></i><i class=c217></i><i class=c218></i><i class=c192></i><i class=c219></i><i class=c220></i><i class=c201></i><i class=c221></i><i class=c192></i><i class=c222></i><i class=c223></i><i class=c224></i><i class=c174></i><i class=c225></i><i class=c215></i><i class=c226></i><i class=c210></i><i class=c169></i><i class=c169></i><i class=c169></i></b><b style="height:10px"><i class=c179></i><i class=c227></i><i class=c171></i><i class=c228></i><i class=c229></i><i class=c155></i><i class=c215></i><i class=c154></i><i class=c187></i><i class=c209></i><i class=c214></i><i class=c103></i><i class=c77></i><i class=c76></i><i class=c78></i><i class=c106></i><i class=c107></i><i class=c74></i><i class=c230></i><i class=c148></i><i class=c231></i><i class=c213></i><i class=c231></i><i class=c231></i><i class=c232></i><i class=c74></i><i class=c75></i><i class=c106></i><i class=c77></i><i class=c233></i><i class=c102></i><i class=c214></i><i class=c234></i><i class=c235></i><i class=c235></i><i class=c163></i><i class=c236></i><i class=c237></i><i class=c237></i><i class=c237></i><i class=c237></i></b><b style="height:9px"><i class=c108></i><i class=c232></i><i class=c98></i><i class=c148></i><i class=c213></i><i class=c238></i><i class=c185></i><i class=c138></i><i class=c140></i><i class=c141></i><i class=c239></i><i class=c96></i><i class=c83></i><i class=c70></i><i class=c95></i><i class=c240></i><i class=c211></i><i class=c67></i><i class=c66></i><i class=c129></i><i class=c93></i><i class=c93></i><i class=c93></i><i class=c66></i><i class=c94></i><i class=c240></i><i class=c239></i><i class=c138></i><i class=c231></i><i class=c74></i><i class=c164></i><i class=c104></i><i class=c152></i><i class=c101></i><i class=c100></i><i class=c106></i><i class=c74></i><i class=c238></i><i class=c137></i><i class=c96></i><i class=c70></i></b><b style="height:10px"><i class=c168></i><i class=c77></i><i class=c241></i><i class=c210></i><i class=c237></i><i class=c236></i><i class=c163></i><i class=c235></i><i class=c235></i><i class=c235></i><i class=c235></i><i class=c235></i><i class=c163></i><i class=c236></i><i class=c182></i><i class=c169></i><i class=c169></i><i class=c182></i><i class=c237></i><i class=c234></i><i class=c235></i><i class=c235></i><i class=c163></i><i class=c163></i><i class=c236></i><i class=c236></i><i class=c237></i><i class=c237></i><i class=c237></i><i class=c237></i><i class=c236></i><i class=c163></i><i class=c235></i><i class=c235></i><i class=c235></i><i class=c235></i><i class=c235></i><i class=c235></i><i class=c235></i><i class=c235></i><i class=c235></i></b><b style="height:9px"><i class=c226></i><i class=c226></i><i class=c226></i><i class=c226></i><i class=c242></i><i class=c243></i><i class=c244></i><i class=c181></i><i class=c245></i><i class=c154></i><i class=c188></i><i class=c228></i><i class=c227></i><i class=c179></i><i class=c157></i><i class=c158></i><i class=c246></i><i class=c178></i><i class=c173></i><i class=c247></i><i class=c248></i><i class=c177></i><i class=c177></i><i class=c177></i><i class=c174></i><i class=c207></i><i class=c249></i><i class=c173></i><i class=c250></i><i class=c250></i><i class=c251></i><i class=c159></i><i class=c225></i><i class=c158></i><i class=c252></i><i class=c179></i><i class=c156></i><i class=c228></i><i class=c156></i><i class=c179></i><i class=c252></i></b><b style="height:10px"><i class=c253></i><i class=c254></i><i class=c255></i><i class=c173></i><i class=c225></i><i class=c228></i><i class=c256></i><i class=c187></i><i class=c237></i><i class=c100></i><i class=c75></i><i class=c74></i><i class=c108></i><i class=c230></i><i class=c232></i><i class=c98></i><i class=c257></i><i class=c231></i><i class=c213></i><i class=c213></i><i class=c231></i><i class=c257></i><i class=c148></i><i class=c257></i><i class=c73></i><i class=c258></i><i class=c82></i><i class=c239></i><i class=c110></i><i class=c70></i><i class=c240></i><i class=c130></i><i class=c259></i><i class=c93></i><i class=c133></i><i class=c120></i><i class=c128></i><i class=c114></i><i class=c85></i><i class=c85></i><i class=c85></i></b><b style="height:9px"><i class=c260></i><i class=c261></i><i class=c262></i><i class=c198></i><i class=c263></i><i class=c191></i><i class=c175></i><i class=c160></i><i class=c264></i><i class=c162></i><i class=c235></i><i class=c102></i><i class=c164></i><i class=c265></i><i class=c109></i><i class=c141></i><i class=c266></i><i class=c95></i><i class=c69></i><i class=c131></i><i class=c211></i><i class=c211></i><i class=c112></i><i class=c135></i><i class=c112></i><i class=c211></i><i class=c68></i><i class=c130></i><i class=c146></i><i class=c184></i><i class=c84></i><i class=c64></i><i class=c85></i><i class=c118></i><i class=c117></i><i class=c61></i><i class=c59></i><i class=c267></i><i class=c55></i><i class=c45></i><i class=c52></i></b><b style="height:10px"><i class=c268></i><i class=c269></i><i class=c270></i><i class=c271></i><i class=c272></i><i class=c271></i><i class=c270></i><i class=c273></i><i class=c199></i><i class=c274></i><i class=c275></i><i class=c223></i><i class=c175></i><i class=c250></i><i class=c158></i><i class=c229></i><i class=c154></i><i class=c242></i><i class=c237></i><i class=c241></i><i class=c152></i><i class=c104></i><i class=c77></i><i class=c106></i><i class=c79></i><i class=c167></i><i class=c99></i><i class=c75></i><i class=c75></i><i class=c75></i><i class=c107></i><i class=c149></i><i class=c168></i><i class=c168></i><i class=c165></i><i class=c74></i><i class=c265></i><i class=c257></i><i class=c185></i><i class=c137></i><i class=c96></i></b><b style="height:10px"><i class=c161></i><i class=c179></i><i class=c160></i><i class=c207></i><i class=c175></i><i class=c255></i><i class=c255></i><i class=c176></i><i class=c190></i><i class=c173></i><i class=c189></i><i class=c228></i><i class=c154></i><i class=c226></i><i class=c241></i><i class=c77></i><i class=c167></i><i class=c75></i><i class=c75></i><i class=c164></i><i class=c78></i><i class=c102></i><i class=c237></i><i class=c276></i><i class=c187></i><i class=c245></i><i class=c154></i><i class=c256></i><i class=c277></i><i class=c215></i><i class=c180></i><i class=c155></i><i class=c188></i><i class=c277></i><i class=c244></i><i class=c209></i><i class=c278></i><i class=c233></i><i class=c75></i><i class=c165></i><i class=c74></i></b><b style="height:9px"><i class=c254></i><i class=c254></i><i class=c254></i><i class=c223></i><i class=c279></i><i class=c255></i><i class=c177></i><i class=c173></i><i class=c246></i><i class=c179></i><i class=c180></i><i class=c280></i><i class=c281></i><i class=c226></i><i class=c242></i><i class=c187></i><i class=c170></i><i class=c188></i><i class=c227></i><i class=c282></i><i class=c251></i><i class=c250></i><i class=c173></i><i class=c283></i><i class=c249></i><i class=c283></i><i class=c173></i><i class=c250></i><i class=c160></i><i class=c157></i><i class=c284></i><i class=c280></i><i class=c276></i><i class=c237></i><i class=c103></i><i class=c149></i><i class=c109></i><i class=c71></i><i class=c70></i><i class=c70></i><i class=c70></i></b><b style="height:10px"><i class=c275></i><i class=c218></i><i class=c285></i><i class=c274></i><i class=c193></i><i class=c268></i><i class=c270></i><i class=c286></i><i class=c287></i><i class=c288></i><i class=c289></i><i class=c289></i><i class=c289></i><i class=c289></i><i class=c288></i><i class=c290></i><i class=c291></i><i class=c292></i><i class=c293></i><i class=c275></i><i class=c191></i><i class=c294></i><i class=c207></i><i class=c189></i><i class=c188></i><i class=c226></i><i class=c152></i><i class=c79></i><i class=c75></i><i class=c151></i><i class=c148></i><i class=c137></i><i class=c295></i><i class=c145></i><i class=c84></i><i class=c128></i><i class=c126></i><i class=c124></i><i class=c50></i><i class=c50></i><i class=c50></i></b><b style="height:9px"><i class=c161></i><i class=c296></i><i class=c250></i><i class=c176></i><i class=c254></i><i class=c217></i><i class=c274></i><i class=c297></i><i class=c298></i><i class=c299></i><i class=c300></i><i class=c301></i><i class=c302></i><i class=c302></i><i class=c303></i><i class=c304></i><i class=c262></i><i class=c196></i><i class=c201></i><i class=c218></i><i class=c191></i><i class=c255></i><i class=c251></i><i class=c161></i><i class=c276></i><i class=c100></i><i class=c168></i><i class=c265></i><i class=c98></i><i class=c238></i><i class=c137></i><i class=c144></i><i class=c134></i><i class=c93></i><i class=c120></i><i class=c90></i><i class=c89></i><i class=c51></i><i class=c47></i><i class=c47></i><i class=c47></i></b><b style="height:10px"><i class=c109></i><i class=c231></i><i class=c265></i><i class=c80></i><i class=c77></i><i class=c169></i><i class=c281></i><i class=c277></i><i class=c208></i><i class=c160></i><i class=c174></i><i class=c255></i><i class=c279></i><i class=c305></i><i class=c275></i><i class=c219></i><i class=c220></i><i class=c306></i><i class=c193></i><i class=c200></i><i class=c193></i><i class=c307></i><i class=c293></i><i class=c202></i><i class=c192></i><i class=c204></i><i class=c191></i><i class=c224></i><i class=c175></i><i class=c249></i><i class=c159></i><i class=c229></i><i class=c154></i><i class=c280></i><i class=c243></i><i class=c236></i><i class=c104></i><i class=c99></i><i class=c168></i><i class=c168></i><i class=c168></i></b><b style="height:9px"><i class=c67></i><i class=c113></i><i class=c84></i><i class=c129></i><i class=c93></i><i class=c93></i><i class=c129></i><i class=c84></i><i class=c134></i><i class=c146></i><i class=c135></i><i class=c295></i><i class=c110></i><i class=c138></i><i class=c98></i><i class=c168></i><i class=c77></i><i class=c169></i><i class=c226></i><i class=c154></i><i class=c156></i><i class=c251></i><i class=c190></i><i class=c206></i><i class=c191></i><i class=c275></i><i class=c220></i><i class=c297></i><i class=c273></i><i class=c195></i><i class=c298></i><i class=c270></i><i class=c270></i><i class=c270></i><i class=c195></i><i class=c268></i><i class=c193></i><i class=c220></i><i class=c274></i><i class=c274></i><i class=c274></i></b><b style="height:10px"><i class=c85></i><i class=c85></i><i class=c85></i><i class=c85></i><i class=c85></i><i class=c90></i><i class=c127></i><i class=c115></i><i class=c115></i><i class=c115></i><i class=c127></i><i class=c85></i><i class=c128></i><i class=c64></i><i class=c133></i><i class=c113></i><i class=c135></i><i class=c70></i><i class=c141></i><i class=c185></i><i class=c230></i><i class=c107></i><i class=c100></i><i class=c237></i><i class=c244></i><i class=c308></i><i class=c179></i><i class=c246></i><i class=c309></i><i class=c283></i><i class=c190></i><i class=c224></i><i class=c310></i><i class=c254></i><i class=c254></i><i class=c191></i><i class=c311></i><i class=c305></i><i class=c305></i><i class=c305></i><i class=c305></i></b><b style="height:9px"><i class=c126></i><i class=c86></i><i class=c115></i><i class=c90></i><i class=c91></i><i class=c92></i><i class=c150></i><i class=c93></i><i class=c129></i><i class=c259></i><i class=c184></i><i class=c145></i><i class=c144></i><i class=c295></i><i class=c70></i><i class=c142></i><i class=c97></i><i class=c258></i><i class=c213></i><i class=c108></i><i class=c149></i><i class=c104></i><i class=c214></i><i class=c163></i><i class=c209></i><i class=c226></i><i class=c187></i><i class=c181></i><i class=c280></i><i class=c280></i><i class=c280></i><i class=c244></i><i class=c243></i><i class=c209></i><i class=c237></i><i class=c278></i><i class=c103></i><i class=c233></i><i class=c77></i><i class=c77></i><i class=c77></i></b><b style="height:10px"><i class=c56></i><i class=c56></i><i class=c47></i><i class=c122></i><i class=c60></i><i class=c123></i><i class=c89></i><i class=c88></i><i class=c126></i><i class=c115></i><i class=c91></i><i class=c150></i><i class=c113></i><i class=c112></i><i class=c295></i><i class=c110></i><i class=c97></i><i class=c138></i><i class=c312></i><i class=c231></i><i class=c108></i><i class=c165></i><i class=c99></i><i class=c106></i><i class=c78></i><i class=c233></i><i class=c103></i><i class=c102></i><i class=c101></i><i class=c102></i><i class=c100></i><i class=c77></i><i class=c106></i><i class=c79></i><i class=c164></i><i class=c149></i><i class=c74></i><i class=c230></i><i class=c98></i><i class=c98></i><i class=c98></i></b><b style="height:9px"><i class=c313></i><i class=c89></i><i class=c117></i><i class=c88></i><i class=c87></i><i class=c86></i><i class=c90></i><i class=c91></i><i class=c128></i><i class=c64></i><i class=c129></i><i class=c130></i><i class=c131></i><i class=c69></i><i class=c295></i><i class=c96></i><i class=c139></i><i class=c231></i><i class=c314></i><i class=c165></i><i class=c167></i><i class=c104></i><i class=c278></i><i class=c237></i><i class=c163></i><i class=c163></i><i class=c235></i><i class=c235></i><i class=c235></i><i class=c209></i><i class=c226></i><i class=c187></i><i class=c181></i><i class=c280></i><i class=c244></i><i class=c242></i><i class=c163></i><i class=c182></i><i class=c169></i><i class=c169></i><i class=c169></i></b><b style="height:10px"><i class=c91></i><i class=c116></i><i class=c89></i><i class=c123></i><i class=c61></i><i class=c49></i><i class=c122></i><i class=c47></i><i class=c47></i><i class=c59></i><i class=c48></i><i class=c313></i><i class=c125></i><i class=c88></i><i class=c126></i><i class=c85></i><i class=c113></i><i class=c70></i><i class=c109></i><i class=c81></i><i class=c107></i><i class=c79></i><i class=c78></i><i class=c77></i><i class=c77></i><i class=c78></i><i class=c106></i><i class=c79></i><i class=c79></i><i class=c167></i><i class=c99></i><i class=c107></i><i class=c149></i><i class=c168></i><i class=c168></i><i class=c165></i><i class=c166></i><i class=c74></i><i class=c74></i><i class=c74></i><i class=c74></i></b><b style="height:10px"><i class=c86></i><i class=c61></i><i class=c59></i><i class=c267></i><i class=c58></i><i class=c46></i><i class=c57></i><i class=c45></i><i class=c52></i><i class=c52></i><i class=c44></i><i class=c62></i><i class=c40></i><i class=c41></i><i class=c41></i><i class=c41></i><i class=c41></i><i class=c41></i><i class=c41></i><i class=c41></i><i class=c41></i><i class=c41></i><i class=c41></i><i class=c41></i><i class=c40></i><i class=c53></i><i class=c52></i><i class=c55></i><i class=c46></i><i class=c56></i><i class=c48></i><i class=c117></i><i class=c86></i><i class=c115></i><i class=c90></i><i class=c183></i><i class=c129></i><i class=c67></i><i class=c146></i><i class=c146></i><i class=c146></i></b><b style="height:9px"><i class=c98></i><i class=c98></i><i class=c98></i><i class=c98></i><i class=c257></i><i class=c73></i><i class=c138></i><i class=c72></i><i class=c97></i><i class=c212></i><i class=c70></i><i class=c135></i><i class=c184></i><i class=c259></i><i class=c84></i><i class=c93></i><i class=c120></i><i class=c183></i><i class=c119></i><i class=c119></i><i class=c91></i><i class=c91></i><i class=c114></i><i class=c114></i><i class=c91></i><i class=c128></i><i class=c120></i><i class=c133></i><i class=c93></i><i class=c129></i><i class=c84></i><i class=c67></i><i class=c94></i><i class=c146></i><i class=c68></i><i class=c112></i><i class=c144></i><i class=c143></i><i class=c295></i><i class=c295></i><i class=c295></i></b><b style="height:10px"><i class=c229></i><i class=c229></i><i class=c229></i><i class=c229></i><i class=c161></i><i class=c155></i><i class=c180></i><i class=c215></i><i class=c315></i><i class=c170></i><i class=c244></i><i class=c226></i><i class=c163></i><i class=c169></i><i class=c103></i><i class=c106></i><i class=c80></i><i class=c74></i><i class=c232></i><i class=c312></i><i class=c140></i><i class=c142></i><i class=c266></i><i class=c70></i><i class=c136></i><i class=c295></i><i class=c69></i><i class=c131></i><i class=c135></i><i class=c135></i><i class=c135></i><i class=c135></i><i class=c135></i><i class=c135></i><i class=c112></i><i class=c211></i><i class=c68></i><i class=c130></i><i class=c146></i><i class=c146></i><i class=c146></i></b><b style="height:9px"><i class=c177></i><i class=c177></i><i class=c177></i><i class=c177></i><i class=c174></i><i class=c247></i><i class=c250></i><i class=c178></i><i class=c246></i><i class=c252></i><i class=c229></i><i class=c315></i><i class=c187></i><i class=c153></i><i class=c214></i><i class=c100></i><i class=c99></i><i class=c74></i><i class=c231></i><i class=c140></i><i class=c266></i><i class=c144></i><i class=c130></i><i class=c84></i><i class=c120></i><i class=c85></i><i class=c126></i><i class=c123></i><i class=c48></i><i class=c122></i><i class=c47></i><i class=c56></i><i class=c58></i><i class=c46></i><i class=c46></i><i class=c58></i><i class=c58></i><i class=c267></i><i class=c267></i><i class=c267></i><i class=c267></i></b><b style="height:10px"><i class=c201></i><i class=c201></i><i class=c201></i><i class=c201></i><i class=c220></i><i class=c274></i><i class=c263></i><i class=c203></i><i class=c204></i><i class=c191></i><i class=c224></i><i class=c174></i><i class=c160></i><i class=c171></i><i class=c154></i><i class=c209></i><i class=c101></i><i class=c77></i><i class=c168></i><i class=c109></i><i class=c295></i><i class=c259></i><i class=c64></i><i class=c128></i><i class=c85></i><i class=c126></i><i class=c48></i><i class=c46></i><i class=c52></i><i class=c54></i><i class=c62></i><i class=c43></i><i class=c14></i><i class=c13></i><i class=c16></i><i class=c27></i><i class=c12></i><i class=c21></i><i class=c17></i><i class=c17></i><i class=c17></i></b><b style="height:9px"><i class=c254></i><i class=c217></i><i class=c263></i><i class=c274></i><i class=c293></i><i class=c201></i><i class=c193></i><i class=c199></i><i class=c297></i><i class=c199></i><i class=c193></i><i class=c201></i><i class=c274></i><i class=c263></i><i class=c275></i><i class=c205></i><i class=c279></i><i class=c294></i><i class=c316></i><i class=c247></i><i class=c309></i><i class=c158></i><i class=c229></i><i class=c154></i><i class=c242></i><i class=c237></i><i class=c103></i><i class=c99></i><i class=c314></i><i class=c213></i><i class=c140></i><i class=c96></i><i class=c240></i><i class=c68></i><i class=c84></i><i class=c64></i><i class=c85></i><i class=c127></i><i class=c115></i><i class=c115></i><i class=c115></i></b><b style="height:10px"><i class=c193></i><i class=c193></i><i class=c317></i><i class=c197></i><i class=c270></i><i class=c290></i><i class=c301></i><i class=c261></i><i class=c318></i><i class=c318></i><i class=c318></i><i class=c318></i><i class=c318></i><i class=c319></i><i class=c302></i><i class=c320></i><i class=c289></i><i class=c287></i><i class=c290></i><i class=c290></i><i class=c290></i><i class=c262></i><i class=c286></i><i class=c272></i><i class=c270></i><i class=c197></i><i class=c202></i><i class=c321></i><i class=c224></i><i class=c174></i><i class=c160></i><i class=c171></i><i class=c215></i><i class=c244></i><i class=c237></i><i class=c100></i><i class=c75></i><i class=c165></i><i class=c74></i><i class=c74></i><i class=c74></i></b><b style="height:9px"><i class=c270></i><i class=c270></i><i class=c322></i><i class=c299></i><i class=c300></i><i class=c303></i><i class=c318></i><i class=c323></i><i class=c324></i><i class=c325></i><i class=c326></i><i class=c327></i><i class=c328></i><i class=c329></i><i class=c330></i><i class=c331></i><i class=c332></i><i class=c333></i><i class=c333></i><i class=c331></i><i class=c334></i><i class=c325></i><i class=c335></i><i class=c318></i><i class=c302></i><i class=c289></i><i class=c270></i><i class=c268></i><i class=c297></i><i class=c200></i><i class=c201></i><i class=c263></i><i class=c218></i><i class=c217></i><i class=c336></i><i class=c310></i><i class=c316></i><i class=c173></i><i class=c251></i><i class=c251></i><i class=c251></i></b><b style="height:10px"><i class=c186></i><i class=c169></i><i class=c237></i><i class=c153></i><i class=c245></i><i class=c229></i><i class=c172></i><i class=c247></i><i class=c177></i><i class=c190></i><i class=c255></i><i class=c206></i><i class=c223></i><i class=c254></i><i class=c254></i><i class=c254></i><i class=c254></i><i class=c254></i><i class=c254></i><i class=c223></i><i class=c279></i><i class=c294></i><i class=c175></i><i class=c207></i><i class=c309></i><i class=c225></i><i class=c229></i><i class=c154></i><i class=c243></i><i class=c235></i><i class=c214></i><i class=c102></i><i class=c233></i><i class=c77></i><i class=c164></i><i class=c74></i><i class=c138></i><i class=c239></i><i class=c70></i><i class=c70></i><i class=c70></i></b><b style="height:10px"><i class=c212></i><i class=c97></i><i class=c139></i><i class=c138></i><i class=c72></i><i class=c82></i><i class=c142></i><i class=c266></i><i class=c70></i><i class=c136></i><i class=c295></i><i class=c69></i><i class=c131></i><i class=c135></i><i class=c145></i><i class=c184></i><i class=c93></i><i class=c64></i><i class=c128></i><i class=c119></i><i class=c114></i><i class=c90></i><i class=c127></i><i class=c115></i><i class=c118></i><i class=c132></i><i class=c313></i><i class=c60></i><i class=c51></i><i class=c59></i><i class=c58></i><i class=c52></i><i class=c63></i><i class=c41></i><i class=c42></i><i class=c16></i><i class=c20></i><i class=c34></i><i class=c31></i><i class=c31></i><i class=c31></i></b><b style="height:9px"><i class=c70></i><i class=c70></i><i class=c70></i><i class=c70></i><i class=c95></i><i class=c143></i><i class=c135></i><i class=c68></i><i class=c146></i><i class=c184></i><i class=c113></i><i class=c129></i><i class=c65></i><i class=c120></i><i class=c183></i><i class=c90></i><i class=c87></i><i class=c313></i><i class=c49></i><i class=c51></i><i class=c47></i><i class=c46></i><i class=c45></i><i class=c52></i><i class=c54></i><i class=c63></i><i class=c14></i><i class=c27></i><i class=c12></i><i class=c21></i><i class=c30></i><i class=c34></i><i class=c0></i><i class=c19></i><i class=c1></i><i class=c10></i><i class=c32></i><i class=c26></i><i class=c3></i><i class=c3></i><i class=c3></i></b><b style="height:10px"><i class=c115></i><i class=c115></i><i class=c115></i><i class=c115></i><i class=c337></i><i class=c86></i><i class=c126></i><i class=c132></i><i class=c88></i><i class=c117></i><i class=c89></i><i class=c313></i><i class=c61></i><i class=c50></i><i class=c60></i><i class=c122></i><i class=c58></i><i class=c45></i><i class=c54></i><i class=c44></i><i class=c53></i><i class=c62></i><i class=c63></i><i class=c63></i><i class=c40></i><i class=c42></i><i class=c13></i><i class=c28></i><i class=c12></i><i class=c17></i><i class=c29></i><i class=c18></i><i class=c19></i><i class=c10></i><i class=c2></i><i class=c26></i><i class=c25></i><i class=c37></i><i class=c24></i><i class=c24></i><i class=c24></i></b><b style="height:9px"><i class=c53></i><i class=c53></i><i class=c53></i><i class=c53></i><i class=c53></i><i class=c53></i><i class=c53></i><i class=c53></i><i class=c53></i><i class=c53></i><i class=c62></i><i class=c40></i><i class=c41></i><i class=c41></i><i class=c41></i><i class=c43></i><i class=c33></i><i class=c14></i><i class=c14></i><i class=c14></i><i class=c14></i><i class=c14></i><i class=c14></i><i class=c14></i><i class=c14></i><i class=c15></i><i class=c16></i><i class=c27></i><i class=c27></i><i class=c28></i><i class=c17></i><i class=c11></i><i class=c18></i><i class=c31></i><i class=c0></i><i class=c1></i><i class=c2></i><i class=c26></i><i class=c3></i><i class=c3></i><i class=c3></i></b><b style="height:10px"><i class=c11></i><i class=c11></i><i class=c11></i><i class=c11></i><i class=c11></i><i class=c29></i><i class=c20></i><i class=c17></i><i class=c17></i><i class=c21></i><i class=c12></i><i class=c27></i><i class=c16></i><i class=c13></i><i class=c15></i><i class=c14></i><i class=c42></i><i class=c43></i><i class=c43></i><i class=c43></i><i class=c42></i><i class=c42></i><i class=c42></i><i class=c42></i><i class=c42></i><i class=c42></i><i class=c42></i><i class=c42></i><i class=c42></i><i class=c33></i><i class=c15></i><i class=c16></i><i class=c28></i><i class=c12></i><i class=c21></i><i class=c20></i><i class=c22></i><i class=c18></i><i class=c31></i><i class=c31></i><i class=c31></i></b><b style="height:9px"><i class=c18></i><i class=c22></i><i class=c11></i><i class=c11></i><i class=c29></i><i class=c30></i><i class=c17></i><i class=c21></i><i class=c12></i><i class=c28></i><i class=c16></i><i class=c15></i><i class=c33></i><i class=c42></i><i class=c43></i><i class=c41></i><i class=c63></i><i class=c53></i><i class=c54></i><i class=c45></i><i class=c267></i><i class=c51></i><i class=c50></i><i class=c123></i><i class=c124></i><i class=c117></i><i class=c126></i><i class=c118></i><i class=c115></i><i class=c127></i><i class=c90></i><i class=c114></i><i class=c119></i><i class=c128></i><i class=c128></i><i class=c128></i><i class=c128></i><i class=c128></i><i class=c128></i><i class=c128></i><i class=c128></i></b><b style="height:10px"><i class=c168></i><i class=c168></i><i class=c168></i><i class=c168></i><i class=c80></i><i class=c167></i><i class=c105></i><i class=c152></i><i class=c101></i><i class=c241></i><i class=c214></i><i class=c163></i><i class=c153></i><i class=c226></i><i class=c281></i><i class=c244></i><i class=c154></i><i class=c277></i><i class=c188></i><i class=c284></i><i class=c161></i><i class=c229></i><i class=c229></i><i class=c229></i><i class=c229></i><i class=c229></i><i class=c229></i><i class=c229></i><i class=c229></i><i class=c229></i><i class=c229></i><i class=c229></i><i class=c229></i><i class=c229></i><i class=c155></i><i class=c277></i><i class=c280></i><i class=c243></i><i class=c226></i><i class=c226></i><i class=c226></i></b><b style="height:9px"><i class=c203></i><i class=c203></i><i class=c203></i><i class=c203></i><i class=c192></i><i class=c219></i><i class=c220></i><i class=c306></i><i class=c193></i><i class=c200></i><i class=c297></i><i class=c268></i><i class=c273></i><i class=c269></i><i class=c269></i><i class=c269></i><i class=c269></i><i class=c269></i><i class=c269></i><i class=c196></i><i class=c198></i><i class=c338></i><i class=c221></i><i class=c274></i><i class=c339></i><i class=c263></i><i class=c203></i><i class=c275></i><i class=c217></i><i class=c253></i><i class=c305></i><i class=c279></i><i class=c224></i><i class=c255></i><i class=c175></i><i class=c207></i><i class=c160></i><i class=c158></i><i class=c179></i><i class=c179></i><i class=c179></i></b><b style="height:10px"><i class=c297></i><i class=c297></i><i class=c268></i><i class=c270></i><i class=c289></i><i class=c302></i><i class=c340></i><i class=c335></i><i class=c341></i><i class=c325></i><i class=c342></i><i class=c334></i><i class=c343></i><i class=c329></i><i class=c328></i><i class=c327></i><i class=c326></i><i class=c325></i><i class=c344></i><i class=c341></i><i class=c319></i><i class=c300></i><i class=c299></i><i class=c272></i><i class=c270></i><i class=c268></i><i class=c201></i><i class=c263></i><i class=c203></i><i class=c275></i><i class=c336></i><i class=c310></i><i class=c224></i><i class=c255></i><i class=c316></i><i class=c250></i><i class=c179></i><i class=c155></i><i class=c277></i><i class=c277></i><i class=c277></i></b><b style="height:10px"><i class=c272></i><i class=c272></i><i class=c272></i><i class=c272></i><i class=c262></i><i class=c288></i><i class=c301></i><i class=c261></i><i class=c318></i><i class=c340></i><i class=c335></i><i class=c341></i><i class=c324></i><i class=c344></i><i class=c324></i><i class=c341></i><i class=c345></i><i class=c318></i><i class=c261></i><i class=c346></i><i class=c347></i><i class=c298></i><i class=c268></i><i class=c297></i><i class=c193></i><i class=c274></i><i class=c217></i><i class=c305></i><i class=c254></i><i class=c279></i><i class=c175></i><i class=c250></i><i class=c157></i><i class=c155></i><i class=c280></i><i class=c235></i><i class=c101></i><i class=c104></i><i class=c77></i><i class=c77></i><i class=c77></i></b><b style="height:9px"><i class=c244></i><i class=c256></i><i class=c155></i><i class=c229></i><i class=c156></i><i class=c252></i><i class=c178></i><i class=c247></i><i class=c177></i><i class=c190></i><i class=c175></i><i class=c224></i><i class=c216></i><i class=c279></i><i class=c223></i><i class=c191></i><i class=c336></i><i class=c348></i><i class=c217></i><i class=c253></i><i class=c305></i><i class=c279></i><i class=c224></i><i class=c255></i><i class=c175></i><i class=c174></i><i class=c178></i><i class=c282></i><i class=c158></i><i class=c296></i><i class=c171></i><i class=c161></i><i class=c308></i><i class=c277></i><i class=c154></i><i class=c243></i><i class=c214></i><i class=c100></i><i class=c77></i><i class=c77></i><i class=c77></i></b><b style="height:10px"><i class=c259></i><i class=c259></i><i class=c259></i><i class=c259></i><i class=c67></i><i class=c68></i><i class=c69></i><i class=c111></i><i class=c70></i><i class=c96></i><i class=c212></i><i class=c138></i><i class=c312></i><i class=c213></i><i class=c257></i><i class=c108></i><i class=c165></i><i class=c164></i><i class=c77></i><i class=c100></i><i class=c152></i><i class=c101></i><i class=c186></i><i class=c186></i><i class=c186></i><i class=c186></i><i class=c241></i><i class=c241></i><i class=c241></i><i class=c241></i><i class=c278></i><i class=c278></i><i class=c278></i><i class=c278></i><i class=c278></i><i class=c278></i><i class=c186></i><i class=c101></i><i class=c101></i><i class=c101></i><i class=c101></i></b><b style="height:9px"><i class=c14></i><i class=c14></i><i class=c14></i><i class=c14></i><i class=c14></i><i class=c33></i><i class=c43></i><i class=c41></i><i class=c41></i><i class=c41></i><i class=c41></i><i class=c41></i><i class=c41></i><i class=c41></i><i class=c41></i><i class=c63></i><i class=c54></i><i class=c55></i><i class=c59></i><i class=c50></i><i class=c89></i><i class=c117></i><i class=c88></i><i class=c88></i><i class=c87></i><i class=c86></i><i class=c90></i><i class=c91></i><i class=c128></i><i class=c183></i><i class=c64></i><i class=c150></i><i class=c133></i><i class=c93></i><i class=c133></i><i class=c150></i><i class=c64></i><i class=c183></i><i class=c128></i><i class=c128></i><i class=c128></i></b><b style="height:10px"><i class=c11></i><i class=c11></i><i class=c11></i><i class=c11></i><i class=c22></i><i class=c18></i><i class=c0></i><i class=c1></i><i class=c10></i><i class=c10></i><i class=c2></i><i class=c32></i><i class=c26></i><i class=c26></i><i class=c26></i><i class=c32></i><i class=c32></i><i class=c2></i><i class=c2></i><i class=c10></i><i class=c10></i><i class=c1></i><i class=c19></i><i class=c19></i><i class=c0></i><i class=c0></i><i class=c0></i><i class=c19></i><i class=c19></i><i class=c19></i><i class=c0></i><i class=c0></i><i class=c31></i><i class=c31></i><i class=c31></i><i class=c18></i><i class=c22></i><i class=c11></i><i class=c11></i><i class=c11></i><i class=c11></i></b><b style="height:9px"><i class=c13></i><i class=c13></i><i class=c13></i><i class=c13></i><i class=c16></i><i class=c27></i><i class=c12></i><i class=c21></i><i class=c17></i><i class=c20></i><i class=c29></i><i class=c18></i><i class=c0></i><i class=c19></i><i class=c1></i><i class=c10></i><i class=c32></i><i class=c26></i><i class=c36></i><i class=c35></i><i class=c4></i><i class=c37></i><i class=c24></i><i class=c24></i><i class=c24></i><i class=c23></i><i class=c23></i><i class=c5></i><i class=c5></i><i class=c5></i><i class=c23></i><i class=c23></i><i class=c24></i><i class=c24></i><i class=c24></i><i class=c23></i><i class=c23></i><i class=c5></i><i class=c5></i><i class=c5></i><i class=c5></i></b><b style="height:10px"><i class=c85></i><i class=c115></i><i class=c86></i><i class=c116></i><i class=c126></i><i class=c132></i><i class=c117></i><i class=c89></i><i class=c124></i><i class=c313></i><i class=c50></i><i class=c51></i><i class=c47></i><i class=c47></i><i class=c267></i><i class=c57></i><i class=c62></i><i class=c42></i><i class=c16></i><i class=c12></i><i class=c20></i><i class=c29></i><i class=c11></i><i class=c11></i><i class=c11></i><i class=c22></i><i class=c18></i><i class=c31></i><i class=c31></i><i class=c31></i><i class=c18></i><i class=c22></i><i class=c11></i><i class=c11></i><i class=c11></i><i class=c29></i><i class=c20></i><i class=c17></i><i class=c17></i><i class=c17></i><i class=c17></i></b><b style="height:9px"><i class=c97></i><i class=c97></i><i class=c97></i><i class=c97></i><i class=c141></i><i class=c142></i><i class=c136></i><i class=c143></i><i class=c69></i><i class=c349></i><i class=c112></i><i class=c94></i><i class=c134></i><i class=c259></i><i class=c66></i><i class=c150></i><i class=c91></i><i class=c115></i><i class=c116></i><i class=c87></i><i class=c132></i><i class=c88></i><i class=c125></i><i class=c124></i><i class=c313></i><i class=c123></i><i class=c123></i><i class=c123></i><i class=c123></i><i class=c61></i><i class=c50></i><i class=c60></i><i class=c48></i><i class=c51></i><i class=c51></i><i class=c122></i><i class=c47></i><i class=c47></i><i class=c47></i><i class=c47></i><i class=c47></i></b><b style="height:10px"><i class=c86></i><i class=c126></i><i class=c132></i><i class=c88></i><i class=c117></i><i class=c125></i><i class=c124></i><i class=c313></i><i class=c123></i><i class=c123></i><i class=c61></i><i class=c61></i><i class=c50></i><i class=c50></i><i class=c49></i><i class=c48></i><i class=c122></i><i class=c59></i><i class=c59></i><i class=c122></i><i class=c51></i><i class=c48></i><i class=c60></i><i class=c60></i><i class=c50></i><i class=c124></i><i class=c88></i><i class=c126></i><i class=c116></i><i class=c86></i><i class=c115></i><i class=c85></i><i class=c119></i><i class=c128></i><i class=c183></i><i class=c64></i><i class=c150></i><i class=c133></i><i class=c93></i><i class=c93></i><i class=c93></i></b><b style="height:9px"><i class=c43></i><i class=c43></i><i class=c42></i><i class=c42></i><i class=c42></i><i class=c33></i><i class=c33></i><i class=c14></i><i class=c14></i><i class=c14></i><i class=c15></i><i class=c15></i><i class=c13></i><i class=c13></i><i class=c13></i><i class=c16></i><i class=c16></i><i class=c16></i><i class=c16></i><i class=c16></i><i class=c13></i><i class=c13></i><i class=c13></i><i class=c13></i><i class=c13></i><i class=c15></i><i class=c33></i><i class=c42></i><i class=c41></i><i class=c63></i><i class=c62></i><i class=c53></i><i class=c53></i><i class=c53></i><i class=c54></i><i class=c45></i><i class=c56></i><i class=c59></i><i class=c51></i><i class=c51></i><i class=c51></i></b><b style="height:10px"><i class=c128></i><i class=c128></i><i class=c128></i><i class=c128></i><i class=c119></i><i class=c114></i><i class=c90></i><i class=c127></i><i class=c115></i><i class=c118></i><i class=c126></i><i class=c117></i><i class=c124></i><i class=c123></i><i class=c50></i><i class=c51></i><i class=c267></i><i class=c45></i><i class=c54></i><i class=c44></i><i class=c53></i><i class=c53></i><i class=c53></i><i class=c53></i><i class=c53></i><i class=c53></i><i class=c53></i><i class=c53></i><i class=c53></i><i class=c53></i><i class=c53></i><i class=c53></i><i class=c53></i><i class=c53></i><i class=c53></i><i class=c44></i><i class=c52></i><i class=c52></i><i class=c52></i><i class=c52></i><i class=c52></i></b><b style="height:10px"><i class=c209></i><i class=c276></i><i class=c226></i><i class=c226></i><i class=c226></i><i class=c226></i><i class=c226></i><i class=c226></i><i class=c226></i><i class=c226></i><i class=c226></i><i class=c226></i><i class=c226></i><i class=c226></i><i class=c226></i><i class=c226></i><i class=c226></i><i class=c226></i><i class=c226></i><i class=c226></i><i class=c276></i><i class=c209></i><i class=c235></i><i class=c235></i><i class=c235></i><i class=c235></i><i class=c235></i><i class=c235></i><i class=c235></i><i class=c235></i><i class=c235></i><i class=c235></i><i class=c235></i><i class=c235></i><i class=c235></i><i class=c235></i><i class=c235></i><i class=c235></i><i class=c235></i><i class=c235></i><i class=c235></i></b><b style="height:9px"><i class=c250></i><i class=c247></i><i class=c174></i><i class=c177></i><i class=c190></i><i class=c255></i><i class=c206></i><i class=c223></i><i class=c254></i><i class=c191></i><i class=c205></i><i class=c204></i><i class=c350></i><i class=c203></i><i class=c192></i><i class=c339></i><i class=c338></i><i class=c198></i><i class=c273></i><i class=c270></i><i class=c262></i><i class=c347></i><i class=c289></i><i class=c289></i><i class=c289></i><i class=c289></i><i class=c289></i><i class=c289></i><i class=c289></i><i class=c288></i><i class=c287></i><i class=c299></i><i class=c286></i><i class=c272></i><i class=c322></i><i class=c298></i><i class=c194></i><i class=c292></i><i class=c297></i><i class=c297></i><i class=c297></i></b><b style="height:10px"><i class=c279></i><i class=c279></i><i class=c279></i><i class=c279></i><i class=c223></i><i class=c311></i><i class=c253></i><i class=c350></i><i class=c203></i><i class=c263></i><i class=c201></i><i class=c268></i><i class=c270></i><i class=c272></i><i class=c299></i><i class=c300></i><i class=c340></i><i class=c342></i><i class=c330></i><i class=c351></i><i class=c352></i><i class=c352></i><i class=c352></i><i class=c353></i><i class=c353></i><i class=c354></i><i class=c354></i><i class=c354></i><i class=c354></i><i class=c354></i><i class=c351></i><i class=c351></i><i class=c333></i><i class=c333></i><i class=c355></i><i class=c356></i><i class=c357></i><i class=c325></i><i class=c341></i><i class=c335></i><i class=c340></i></b><b style="height:9px"><i class=c203></i><i class=c203></i><i class=c203></i><i class=c203></i><i class=c285></i><i class=c293></i><i class=c199></i><i class=c194></i><i class=c269></i><i class=c298></i><i class=c286></i><i class=c304></i><i class=c358></i><i class=c318></i><i class=c345></i><i class=c324></i><i class=c357></i><i class=c343></i><i class=c351></i><i class=c352></i><i class=c359></i><i class=c352></i><i class=c352></i><i class=c353></i><i class=c354></i><i class=c332></i><i class=c329></i><i class=c356></i><i class=c328></i><i class=c334></i><i class=c327></i><i class=c326></i><i class=c325></i><i class=c344></i><i class=c324></i><i class=c323></i><i class=c318></i><i class=c358></i><i class=c302></i><i class=c302></i><i class=c302></i></b><b style="height:10px"><i class=c201></i><i class=c201></i><i class=c201></i><i class=c201></i><i class=c338></i><i class=c297></i><i class=c269></i><i class=c291></i><i class=c272></i><i class=c262></i><i class=c288></i><i class=c301></i><i class=c261></i><i class=c318></i><i class=c318></i><i class=c340></i><i class=c335></i><i class=c341></i><i class=c360></i><i class=c360></i><i class=c323></i><i class=c318></i><i class=c358></i><i class=c302></i><i class=c320></i><i class=c287></i><i class=c298></i><i class=c268></i><i class=c297></i><i class=c199></i><i class=c193></i><i class=c201></i><i class=c293></i><i class=c274></i><i class=c219></i><i class=c218></i><i class=c205></i><i class=c223></i><i class=c279></i><i class=c279></i><i class=c279></i></b><b style="height:9px"><i class=c297></i><i class=c297></i><i class=c297></i><i class=c297></i><i class=c268></i><i class=c298></i><i class=c287></i><i class=c320></i><i class=c302></i><i class=c302></i><i class=c358></i><i class=c319></i><i class=c318></i><i class=c318></i><i class=c318></i><i class=c340></i><i class=c335></i><i class=c323></i><i class=c323></i><i class=c323></i><i class=c323></i><i class=c340></i><i class=c302></i><i class=c289></i><i class=c272></i><i class=c269></i><i class=c297></i><i class=c338></i><i class=c201></i><i class=c221></i><i class=c339></i><i class=c361></i><i class=c350></i><i class=c217></i><i class=c222></i><i class=c191></i><i class=c224></i><i class=c175></i><i class=c177></i><i class=c177></i><i class=c177></i></b><b style="height:10px"><i class=c274></i><i class=c274></i><i class=c274></i><i class=c274></i><i class=c220></i><i class=c200></i><i class=c273></i><i class=c291></i><i class=c272></i><i class=c262></i><i class=c288></i><i class=c301></i><i class=c261></i><i class=c318></i><i class=c345></i><i class=c324></i><i class=c342></i><i class=c362></i><i class=c328></i><i class=c328></i><i class=c328></i><i class=c328></i><i class=c328></i><i class=c328></i><i class=c362></i><i class=c342></i><i class=c324></i><i class=c345></i><i class=c318></i><i class=c318></i><i class=c319></i><i class=c358></i><i class=c302></i><i class=c302></i><i class=c320></i><i class=c287></i><i class=c298></i><i class=c268></i><i class=c297></i><i class=c297></i><i class=c297></i></b><b style="height:9px"><i class=c255></i><i class=c255></i><i class=c255></i><i class=c255></i><i class=c224></i><i class=c310></i><i class=c336></i><i class=c275></i><i class=c203></i><i class=c285></i><i class=c293></i><i class=c199></i><i class=c194></i><i class=c269></i><i class=c298></i><i class=c262></i><i class=c320></i><i class=c319></i><i class=c323></i><i class=c360></i><i class=c344></i><i class=c363></i><i class=c342></i><i class=c357></i><i class=c362></i><i class=c343></i><i class=c355></i><i class=c351></i><i class=c354></i><i class=c354></i><i class=c353></i><i class=c353></i><i class=c352></i><i class=c352></i><i class=c352></i><i class=c353></i><i class=c353></i><i class=c351></i><i class=c332></i><i class=c329></i><i class=c356></i></b><b style="height:10px"><i class=c274></i><i class=c274></i><i class=c274></i><i class=c274></i><i class=c220></i><i class=c200></i><i class=c273></i><i class=c291></i><i class=c272></i><i class=c262></i><i class=c288></i><i class=c301></i><i class=c261></i><i class=c318></i><i class=c345></i><i class=c324></i><i class=c357></i><i class=c343></i><i class=c354></i><i class=c364></i><i class=c365></i><i class=c366></i><i class=c366></i><i class=c366></i><i class=c367></i><i class=c368></i><i class=c364></i><i class=c359></i><i class=c352></i><i class=c352></i><i class=c353></i><i class=c353></i><i class=c354></i><i class=c354></i><i class=c351></i><i class=c332></i><i class=c329></i><i class=c356></i><i class=c328></i><i class=c328></i><i class=c328></i></b><b style="height:10px"><i class=c342></i><i class=c357></i><i class=c369></i><i class=c334></i><i class=c356></i><i class=c329></i><i class=c331></i><i class=c332></i><i class=c333></i><i class=c333></i><i class=c351></i><i class=c353></i><i class=c352></i><i class=c352></i><i class=c359></i><i class=c364></i><i class=c368></i><i class=c367></i><i class=c366></i><i class=c367></i><i class=c368></i><i class=c359></i><i class=c353></i><i class=c354></i><i class=c351></i><i class=c332></i><i class=c329></i><i class=c356></i><i class=c328></i><i class=c334></i><i class=c327></i><i class=c326></i><i class=c325></i><i class=c344></i><i class=c324></i><i class=c341></i><i class=c335></i><i class=c340></i><i class=c318></i><i class=c318></i><i class=c318></i></b><b style="height:9px"><i class=c173></i><i class=c283></i><i class=c249></i><i class=c207></i><i class=c248></i><i class=c177></i><i class=c190></i><i class=c316></i><i class=c175></i><i class=c176></i><i class=c255></i><i class=c294></i><i class=c206></i><i class=c279></i><i class=c223></i><i class=c254></i><i class=c191></i><i class=c205></i><i class=c336></i><i class=c253></i><i class=c204></i><i class=c275></i><i class=c350></i><i class=c350></i><i class=c203></i><i class=c192></i><i class=c219></i><i class=c339></i><i class=c274></i><i class=c293></i><i class=c201></i><i class=c193></i><i class=c199></i><i class=c297></i><i class=c199></i><i class=c193></i><i class=c201></i><i class=c293></i><i class=c274></i><i class=c274></i><i class=c274></i></b><b style="height:10px"><i class=c213></i><i class=c213></i><i class=c213></i><i class=c213></i><i class=c257></i><i class=c108></i><i class=c166></i><i class=c80></i><i class=c75></i><i class=c164></i><i class=c78></i><i class=c103></i><i class=c241></i><i class=c169></i><i class=c214></i><i class=c236></i><i class=c276></i><i class=c244></i><i class=c154></i><i class=c188></i><i class=c208></i><i class=c159></i><i class=c250></i><i class=c247></i><i class=c177></i><i class=c175></i><i class=c294></i><i class=c216></i><i class=c279></i><i class=c223></i><i class=c191></i><i class=c336></i><i class=c348></i><i class=c217></i><i class=c275></i><i class=c203></i><i class=c263></i><i class=c339></i><i class=c274></i><i class=c274></i><i class=c274></i></b><b style="height:9px"><i class=c279></i><i class=c279></i><i class=c310></i><i class=c310></i><i class=c223></i><i class=c223></i><i class=c223></i><i class=c223></i><i class=c223></i><i class=c254></i><i class=c254></i><i class=c254></i><i class=c191></i><i class=c191></i><i class=c191></i><i class=c191></i><i class=c191></i><i class=c311></i><i class=c311></i><i class=c305></i><i class=c321></i><i class=c222></i><i class=c217></i><i class=c203></i><i class=c263></i><i class=c274></i><i class=c221></i><i class=c201></i><i class=c201></i><i class=c307></i><i class=c338></i><i class=c200></i><i class=c199></i><i class=c297></i><i class=c297></i><i class=c297></i><i class=c297></i><i class=c297></i><i class=c297></i><i class=c297></i><i class=c297></i></b><b style="height:10px"><i class=c268></i><i class=c268></i><i class=c197></i><i class=c197></i><i class=c292></i><i class=c292></i><i class=c292></i><i class=c198></i><i class=c198></i><i class=c297></i><i class=c297></i><i class=c297></i><i class=c199></i><i class=c199></i><i class=c317></i><i class=c317></i><i class=c317></i><i class=c200></i><i class=c200></i><i class=c193></i><i class=c338></i><i class=c307></i><i class=c220></i><i class=c293></i><i class=c339></i><i class=c219></i><i class=c285></i><i class=c192></i><i class=c192></i><i class=c361></i><i class=c203></i><i class=c203></i><i class=c203></i><i class=c203></i><i class=c203></i><i class=c218></i><i class=c275></i><i class=c217></i><i class=c217></i><i class=c217></i><i class=c217></i></b><b style="height:9px"><i class=c272></i><i class=c272></i><i class=c272></i><i class=c272></i><i class=c271></i><i class=c291></i><i class=c298></i><i class=c195></i><i class=c269></i><i class=c273></i><i class=c194></i><i class=c197></i><i class=c198></i><i class=c297></i><i class=c199></i><i class=c193></i><i class=c220></i><i class=c202></i><i class=c192></i><i class=c218></i><i class=c275></i><i class=c204></i><i class=c253></i><i class=c336></i><i class=c305></i><i class=c223></i><i class=c216></i><i class=c294></i><i class=c255></i><i class=c176></i><i class=c316></i><i class=c207></i><i class=c283></i><i class=c250></i><i class=c309></i><i class=c246></i><i class=c252></i><i class=c228></i><i class=c180></i><i class=c245></i><i class=c243></i></b><b style="height:10px"><i class=c344></i><i class=c344></i><i class=c344></i><i class=c344></i><i class=c324></i><i class=c341></i><i class=c335></i><i class=c340></i><i class=c318></i><i class=c261></i><i class=c301></i><i class=c288></i><i class=c262></i><i class=c272></i><i class=c322></i><i class=c370></i><i class=c268></i><i class=c317></i><i class=c306></i><i class=c220></i><i class=c274></i><i class=c202></i><i class=c285></i><i class=c361></i><i class=c275></i><i class=c222></i><i class=c191></i><i class=c223></i><i class=c279></i><i class=c216></i><i class=c224></i><i class=c175></i><i class=c190></i><i class=c177></i><i class=c247></i><i class=c160></i><i class=c171></i><i class=c188></i><i class=c277></i><i class=c277></i><i class=c277></i></b><b style="height:9px"><i class=c353></i><i class=c353></i><i class=c354></i><i class=c354></i><i class=c351></i><i class=c332></i><i class=c329></i><i class=c356></i><i class=c328></i><i class=c334></i><i class=c327></i><i class=c326></i><i class=c325></i><i class=c344></i><i class=c341></i><i class=c261></i><i class=c289></i><i class=c286></i><i class=c270></i><i class=c370></i><i class=c269></i><i class=c196></i><i class=c194></i><i class=c197></i><i class=c297></i><i class=c306></i><i class=c339></i><i class=c192></i><i class=c203></i><i class=c350></i><i class=c204></i><i class=c205></i><i class=c191></i><i class=c254></i><i class=c223></i><i class=c206></i><i class=c255></i><i class=c190></i><i class=c177></i><i class=c177></i><i class=c177></i></b><b style="height:10px"><i class=c371></i><i class=c372></i><i class=c372></i><i class=c372></i><i class=c372></i><i class=c372></i><i class=c371></i><i class=c373></i><i class=c373></i><i class=c374></i><i class=c375></i><i class=c376></i><i class=c377></i><i class=c366></i><i class=c367></i><i class=c368></i><i class=c359></i><i class=c353></i><i class=c354></i><i class=c333></i><i class=c329></i><i class=c357></i><i class=c363></i><i class=c344></i><i class=c341></i><i class=c319></i><i class=c300></i><i class=c299></i><i class=c272></i><i class=c322></i><i class=c298></i><i class=c194></i><i class=c292></i><i class=c297></i><i class=c199></i><i class=c193></i><i class=c201></i><i class=c293></i><i class=c274></i><i class=c274></i><i class=c274></i></b><b style="height:10px"><i class=c376></i><i class=c374></i><i class=c371></i><i class=c378></i><i class=c378></i><i class=c372></i><i class=c372></i><i class=c372></i><i class=c372></i><i class=c372></i><i class=c372></i><i class=c372></i><i class=c372></i><i class=c372></i><i class=c372></i><i class=c378></i><i class=c373></i><i class=c374></i><i class=c379></i><i class=c380></i><i class=c377></i><i class=c368></i><i class=c359></i><i class=c353></i><i class=c354></i><i class=c332></i><i class=c329></i><i class=c334></i><i class=c342></i><i class=c341></i><i class=c261></i><i class=c320></i><i class=c300></i><i class=c289></i><i class=c287></i><i class=c272></i><i class=c269></i><i class=c197></i><i class=c297></i><i class=c297></i><i class=c297></i></b><b style="height:9px"><i class=c352></i><i class=c352></i><i class=c352></i><i class=c352></i><i class=c352></i><i class=c359></i><i class=c364></i><i class=c381></i><i class=c381></i><i class=c381></i><i class=c368></i><i class=c367></i><i class=c366></i><i class=c366></i><i class=c366></i><i class=c366></i><i class=c366></i><i class=c366></i><i class=c366></i><i class=c367></i><i class=c368></i><i class=c359></i><i class=c353></i><i class=c354></i><i class=c333></i><i class=c329></i><i class=c357></i><i class=c363></i><i class=c344></i><i class=c324></i><i class=c323></i><i class=c318></i><i class=c358></i><i class=c302></i><i class=c320></i><i class=c287></i><i class=c298></i><i class=c268></i><i class=c297></i><i class=c297></i><i class=c297></i></b><b style="height:10px"><i class=c328></i><i class=c328></i><i class=c328></i><i class=c328></i><i class=c328></i><i class=c328></i><i class=c328></i><i class=c328></i><i class=c328></i><i class=c328></i><i class=c328></i><i class=c328></i><i class=c328></i><i class=c328></i><i class=c334></i><i class=c327></i><i class=c260></i><i class=c360></i><i class=c345></i><i class=c319></i><i class=c358></i><i class=c303></i><i class=c301></i><i class=c304></i><i class=c300></i><i class=c347></i><i class=c299></i><i class=c286></i><i class=c272></i><i class=c322></i><i class=c298></i><i class=c194></i><i class=c292></i><i class=c297></i><i class=c199></i><i class=c193></i><i class=c201></i><i class=c293></i><i class=c274></i><i class=c274></i><i class=c274></i></b><b style="height:9px"><i class=c297></i><i class=c297></i><i class=c297></i><i class=c297></i><i class=c199></i><i class=c193></i><i class=c201></i><i class=c293></i><i class=c274></i><i class=c339></i><i class=c263></i><i class=c203></i><i class=c275></i><i class=c217></i><i class=c253></i><i class=c305></i><i class=c279></i><i class=c255></i><i class=c190></i><i class=c174></i><i class=c207></i><i class=c249></i><i class=c173></i><i class=c250></i><i class=c251></i><i class=c246></i><i class=c158></i><i class=c157></i><i class=c179></i><i class=c208></i><i class=c228></i><i class=c155></i><i class=c308></i><i class=c277></i><i class=c154></i><i class=c181></i><i class=c209></i><i class=c210></i><i class=c169></i><i class=c169></i><i class=c169></i></b><b style="height:10px"><i class=c225></i><i class=c227></i><i class=c264></i><i class=c229></i><i class=c155></i><i class=c277></i><i class=c280></i><i class=c243></i><i class=c226></i><i class=c153></i><i class=c163></i><i class=c214></i><i class=c241></i><i class=c101></i><i class=c103></i><i class=c77></i><i class=c107></i><i class=c74></i><i class=c230></i><i class=c148></i><i class=c231></i><i class=c73></i><i class=c312></i><i class=c185></i><i class=c139></i><i class=c137></i><i class=c70></i><i class=c147></i><i class=c69></i><i class=c131></i><i class=c130></i><i class=c129></i><i class=c64></i><i class=c128></i><i class=c114></i><i class=c115></i><i class=c88></i><i class=c313></i><i class=c50></i><i class=c50></i><i class=c50></i></b><b style="height:9px"><i class=c225></i><i class=c227></i><i class=c264></i><i class=c229></i><i class=c155></i><i class=c277></i><i class=c280></i><i class=c243></i><i class=c226></i><i class=c153></i><i class=c163></i><i class=c214></i><i class=c241></i><i class=c101></i><i class=c100></i><i class=c106></i><i class=c165></i><i class=c314></i><i class=c230></i><i class=c232></i><i class=c231></i><i class=c185></i><i class=c72></i><i class=c97></i><i class=c141></i><i class=c142></i><i class=c136></i><i class=c143></i><i class=c69></i><i class=c131></i><i class=c130></i><i class=c129></i><i class=c64></i><i class=c128></i><i class=c119></i><i class=c85></i><i class=c115></i><i class=c86></i><i class=c116></i><i class=c116></i><i class=c116></i></b><b style="height:10px"><i class=c171></i><i class=c161></i><i class=c308></i><i class=c277></i><i class=c315></i><i class=c245></i><i class=c243></i><i class=c153></i><i class=c235></i><i class=c234></i><i class=c214></i><i class=c102></i><i class=c233></i><i class=c77></i><i class=c106></i><i class=c107></i><i class=c81></i><i class=c232></i><i class=c98></i><i class=c98></i><i class=c257></i><i class=c312></i><i class=c258></i><i class=c138></i><i class=c72></i><i class=c82></i><i class=c142></i><i class=c266></i><i class=c70></i><i class=c95></i><i class=c143></i><i class=c135></i><i class=c68></i><i class=c146></i><i class=c94></i><i class=c67></i><i class=c84></i><i class=c129></i><i class=c93></i><i class=c93></i><i class=c93></i></b><b style="height:9px"><i class=c104></i><i class=c106></i><i class=c164></i><i class=c75></i><i class=c80></i><i class=c165></i><i class=c314></i><i class=c230></i><i class=c98></i><i class=c231></i><i class=c185></i><i class=c137></i><i class=c96></i><i class=c70></i><i class=c95></i><i class=c143></i><i class=c131></i><i class=c112></i><i class=c112></i><i class=c135></i><i class=c135></i><i class=c145></i><i class=c130></i><i class=c146></i><i class=c94></i><i class=c67></i><i class=c84></i><i class=c129></i><i class=c93></i><i class=c133></i><i class=c150></i><i class=c64></i><i class=c183></i><i class=c128></i><i class=c128></i><i class=c128></i><i class=c128></i><i class=c128></i><i class=c128></i><i class=c128></i><i class=c128></i></b><b style="height:10px"><i class=c138></i><i class=c138></i><i class=c138></i><i class=c138></i><i class=c72></i><i class=c82></i><i class=c142></i><i class=c266></i><i class=c70></i><i class=c136></i><i class=c295></i><i class=c69></i><i class=c131></i><i class=c135></i><i class=c112></i><i class=c68></i><i class=c184></i><i class=c259></i><i class=c66></i><i class=c93></i><i class=c65></i><i class=c64></i><i class=c183></i><i class=c128></i><i class=c91></i><i class=c90></i><i class=c86></i><i class=c87></i><i class=c88></i><i class=c117></i><i class=c89></i><i class=c313></i><i class=c61></i><i class=c50></i><i class=c49></i><i class=c48></i><i class=c47></i><i class=c56></i><i class=c267></i><i class=c267></i><i class=c267></i></b><b style="height:10px"><i class=c69></i><i class=c69></i><i class=c69></i><i class=c69></i><i class=c144></i><i class=c131></i><i class=c145></i><i class=c130></i><i class=c146></i><i class=c94></i><i class=c184></i><i class=c134></i><i class=c113></i><i class=c259></i><i class=c259></i><i class=c66></i><i class=c93></i><i class=c65></i><i class=c120></i><i class=c92></i><i class=c128></i><i class=c91></i><i class=c85></i><i class=c85></i><i class=c90></i><i class=c127></i><i class=c337></i><i class=c86></i><i class=c116></i><i class=c116></i><i class=c126></i><i class=c132></i><i class=c88></i><i class=c88></i><i class=c88></i><i class=c117></i><i class=c89></i><i class=c124></i><i class=c124></i><i class=c124></i><i class=c124></i></b><b style="height:9px"><i class=c128></i><i class=c128></i><i class=c128></i><i class=c128></i><i class=c128></i><i class=c128></i><i class=c128></i><i class=c128></i><i class=c128></i><i class=c128></i><i class=c128></i><i class=c128></i><i class=c128></i><i class=c128></i><i class=c119></i><i class=c114></i><i class=c121></i><i class=c115></i><i class=c337></i><i class=c337></i><i class=c118></i><i class=c118></i><i class=c86></i><i class=c86></i><i class=c116></i><i class=c126></i><i class=c132></i><i class=c88></i><i class=c88></i><i class=c117></i><i class=c125></i><i class=c124></i><i class=c313></i><i class=c123></i><i class=c123></i><i class=c61></i><i class=c61></i><i class=c50></i><i class=c50></i><i class=c50></i><i class=c50></i></b><b style="height:10px"><i class=c128></i><i class=c128></i><i class=c128></i><i class=c128></i><i class=c128></i><i class=c128></i><i class=c128></i><i class=c128></i><i class=c128></i><i class=c128></i><i class=c128></i><i class=c128></i><i class=c128></i><i class=c128></i><i class=c119></i><i class=c114></i><i class=c121></i><i class=c115></i><i class=c337></i><i class=c337></i><i class=c118></i><i class=c118></i><i class=c86></i><i class=c86></i><i class=c116></i><i class=c126></i><i class=c132></i><i class=c88></i><i class=c88></i><i class=c117></i><i class=c125></i><i class=c124></i><i class=c313></i><i class=c123></i><i class=c123></i><i class=c61></i><i class=c61></i><i class=c50></i><i class=c50></i><i class=c50></i><i class=c50></i></b><b style="height:9px"><i class=c93></i><i class=c93></i><i class=c93></i><i class=c93></i><i class=c93></i><i class=c93></i><i class=c93></i><i class=c93></i><i class=c93></i><i class=c93></i><i class=c133></i><i class=c150></i><i class=c120></i><i class=c120></i><i class=c64></i><i class=c128></i><i class=c85></i><i class=c127></i><i class=c115></i><i class=c115></i><i class=c115></i><i class=c115></i><i class=c115></i><i class=c115></i><i class=c337></i><i class=c86></i><i class=c126></i><i class=c132></i><i class=c88></i><i class=c117></i><i class=c125></i><i class=c124></i><i class=c313></i><i class=c123></i><i class=c123></i><i class=c61></i><i class=c61></i><i class=c50></i><i class=c50></i><i class=c50></i><i class=c50></i></b><b style="height:10px"><i class=c93></i><i class=c93></i><i class=c93></i><i class=c93></i><i class=c93></i><i class=c93></i><i class=c93></i><i class=c93></i><i class=c93></i><i class=c93></i><i class=c133></i><i class=c150></i><i class=c120></i><i class=c120></i><i class=c64></i><i class=c128></i><i class=c85></i><i class=c127></i><i class=c115></i><i class=c115></i><i class=c115></i><i class=c115></i><i class=c115></i><i class=c115></i><i class=c337></i><i class=c86></i><i class=c126></i><i class=c132></i><i class=c88></i><i class=c88></i><i class=c117></i><i class=c89></i><i class=c124></i><i class=c124></i><i class=c124></i><i class=c313></i><i class=c313></i><i class=c123></i><i class=c123></i><i class=c123></i><i class=c123></i></b><b style="height:9px"><i class=c93></i><i class=c93></i><i class=c93></i><i class=c93></i><i class=c93></i><i class=c93></i><i class=c93></i><i class=c93></i><i class=c93></i><i class=c133></i><i class=c150></i><i class=c64></i><i class=c183></i><i class=c128></i><i class=c128></i><i class=c128></i><i class=c128></i><i class=c128></i><i class=c128></i><i class=c128></i><i class=c128></i><i class=c119></i><i class=c91></i><i class=c91></i><i class=c85></i><i class=c90></i><i class=c127></i><i class=c115></i><i class=c115></i><i class=c115></i><i class=c337></i><i class=c86></i><i class=c116></i><i class=c116></i><i class=c116></i><i class=c116></i><i class=c116></i><i class=c116></i><i class=c116></i><i class=c116></i><i class=c116></i></b><b style="height:10px"><i class=c295></i><i class=c295></i><i class=c295></i><i class=c295></i><i class=c295></i><i class=c295></i><i class=c295></i><i class=c295></i><i class=c295></i><i class=c295></i><i class=c147></i><i class=c240></i><i class=c69></i><i class=c69></i><i class=c144></i><i class=c131></i><i class=c145></i><i class=c130></i><i class=c146></i><i class=c146></i><i class=c146></i><i class=c146></i><i class=c146></i><i class=c146></i><i class=c146></i><i class=c146></i><i class=c146></i><i class=c146></i><i class=c146></i><i class=c94></i><i class=c184></i><i class=c134></i><i class=c113></i><i class=c259></i><i class=c259></i><i class=c84></i><i class=c129></i><i class=c93></i><i class=c93></i><i class=c93></i><i class=c93></i></b><b style="height:9px"><i class=c154></i><i class=c280></i><i class=c244></i><i class=c243></i><i class=c243></i><i class=c243></i><i class=c243></i><i class=c281></i><i class=c281></i><i class=c281></i><i class=c242></i><i class=c242></i><i class=c242></i><i class=c242></i><i class=c276></i><i class=c209></i><i class=c234></i><i class=c237></i><i class=c182></i><i class=c214></i><i class=c169></i><i class=c169></i><i class=c169></i><i class=c278></i><i class=c278></i><i class=c278></i><i class=c278></i><i class=c278></i><i class=c241></i><i class=c241></i><i class=c241></i><i class=c241></i><i class=c241></i><i class=c186></i><i class=c186></i><i class=c186></i><i class=c186></i><i class=c186></i><i class=c101></i><i class=c101></i><i class=c101></i></b><b style="height:10px"><i class=c69></i><i class=c69></i><i class=c69></i><i class=c69></i><i class=c69></i><i class=c69></i><i class=c69></i><i class=c69></i><i class=c69></i><i class=c240></i><i class=c147></i><i class=c111></i><i class=c136></i><i class=c70></i><i class=c136></i><i class=c111></i><i class=c143></i><i class=c69></i><i class=c349></i><i class=c131></i><i class=c135></i><i class=c135></i><i class=c135></i><i class=c135></i><i class=c135></i><i class=c135></i><i class=c135></i><i class=c135></i><i class=c135></i><i class=c112></i><i class=c211></i><i class=c68></i><i class=c130></i><i class=c146></i><i class=c146></i><i class=c146></i><i class=c146></i><i class=c146></i><i class=c146></i><i class=c146></i><i class=c146></i></b><b style="height:9px"><i class=c74></i><i class=c74></i><i class=c74></i><i class=c74></i><i class=c74></i><i class=c74></i><i class=c74></i><i class=c74></i><i class=c74></i><i class=c74></i><i class=c265></i><i class=c98></i><i class=c231></i><i class=c213></i><i class=c73></i><i class=c312></i><i class=c258></i><i class=c139></i><i class=c97></i><i class=c141></i><i class=c137></i><i class=c212></i><i class=c71></i><i class=c71></i><i class=c239></i><i class=c239></i><i class=c239></i><i class=c142></i><i class=c142></i><i class=c110></i><i class=c266></i><i class=c136></i><i class=c111></i><i class=c295></i><i class=c295></i><i class=c295></i><i class=c295></i><i class=c295></i><i class=c295></i><i class=c295></i><i class=c295></i></b><b style="height:10px"><i class=c77></i><i class=c77></i><i class=c77></i><i class=c77></i><i class=c77></i><i class=c77></i><i class=c77></i><i class=c77></i><i class=c77></i><i class=c78></i><i class=c79></i><i class=c75></i><i class=c149></i><i class=c168></i><i class=c168></i><i class=c151></i><i class=c74></i><i class=c314></i><i class=c230></i><i class=c148></i><i class=c231></i><i class=c73></i><i class=c238></i><i class=c238></i><i class=c312></i><i class=c109></i><i class=c185></i><i class=c258></i><i class=c258></i><i class=c138></i><i class=c97></i><i class=c212></i><i class=c142></i><i class=c110></i><i class=c110></i><i class=c110></i><i class=c110></i><i class=c110></i><i class=c110></i><i class=c110></i><i class=c110></i></b><b style="height:10px"><i class=c120></i><i class=c120></i><i class=c64></i><i class=c64></i><i class=c92></i><i class=c92></i><i class=c92></i><i class=c183></i><i class=c183></i><i class=c128></i><i class=c128></i><i class=c128></i><i class=c119></i><i class=c119></i><i class=c91></i><i class=c91></i><i class=c91></i><i class=c114></i><i class=c114></i><i class=c85></i><i class=c85></i><i class=c85></i><i class=c85></i><i class=c90></i><i class=c90></i><i class=c90></i><i class=c90></i><i class=c90></i><i class=c121></i><i class=c121></i><i class=c121></i><i class=c121></i><i class=c121></i><i class=c127></i><i class=c127></i><i class=c127></i><i class=c127></i><i class=c127></i><i class=c115></i><i class=c115></i><i class=c115></i></b><b style="height:9px"><i class=c41></i><i class=c41></i><i class=c41></i><i class=c41></i><i class=c41></i><i class=c41></i><i class=c41></i><i class=c41></i><i class=c41></i><i class=c41></i><i class=c41></i><i class=c41></i><i class=c41></i><i class=c41></i><i class=c41></i><i class=c41></i><i class=c41></i><i class=c41></i><i class=c41></i><i class=c41></i><i class=c41></i><i class=c41></i><i class=c41></i><i class=c41></i><i class=c41></i><i class=c41></i><i class=c41></i><i class=c41></i><i class=c41></i><i class=c41></i><i class=c41></i><i class=c41></i><i class=c41></i><i class=c41></i><i class=c41></i><i class=c41></i><i class=c41></i><i class=c41></i><i class=c41></i><i class=c41></i><i class=c41></i></b><b style="height:10px"><i class=c212></i><i class=c137></i><i class=c141></i><i class=c141></i><i class=c82></i><i class=c97></i><i class=c140></i><i class=c72></i><i class=c72></i><i class=c139></i><i class=c138></i><i class=c138></i><i class=c258></i><i class=c258></i><i class=c185></i><i class=c109></i><i class=c312></i><i class=c238></i><i class=c238></i><i class=c73></i><i class=c213></i><i class=c231></i><i class=c257></i><i class=c257></i><i class=c148></i><i class=c98></i><i class=c232></i><i class=c230></i><i class=c230></i><i class=c108></i><i class=c265></i><i class=c314></i><i class=c81></i><i class=c81></i><i class=c74></i><i class=c74></i><i class=c166></i><i class=c151></i><i class=c151></i><i class=c165></i><i class=c168></i></b><b style="height:9px"><i class=c177></i><i class=c177></i><i class=c190></i><i class=c190></i><i class=c190></i><i class=c190></i><i class=c190></i><i class=c316></i><i class=c316></i><i class=c175></i><i class=c175></i><i class=c175></i><i class=c175></i><i class=c175></i><i class=c176></i><i class=c176></i><i class=c176></i><i class=c255></i><i class=c255></i><i class=c255></i><i class=c255></i><i class=c255></i><i class=c294></i><i class=c294></i><i class=c294></i><i class=c294></i><i class=c294></i><i class=c224></i><i class=c224></i><i class=c206></i><i class=c206></i><i class=c206></i><i class=c206></i><i class=c206></i><i class=c216></i><i class=c216></i><i class=c216></i><i class=c279></i><i class=c279></i><i class=c279></i><i class=c279></i></b><b style="height:10px"><i class=c289></i><i class=c289></i><i class=c289></i><i class=c289></i><i class=c289></i><i class=c289></i><i class=c289></i><i class=c289></i><i class=c289></i><i class=c289></i><i class=c289></i><i class=c289></i><i class=c289></i><i class=c289></i><i class=c289></i><i class=c289></i><i class=c289></i><i class=c289></i><i class=c289></i><i class=c289></i><i class=c289></i><i class=c289></i><i class=c289></i><i class=c289></i><i class=c289></i><i class=c289></i><i class=c289></i><i class=c289></i><i class=c289></i><i class=c289></i><i class=c289></i><i class=c289></i><i class=c289></i><i class=c289></i><i class=c289></i><i class=c289></i><i class=c289></i><i class=c289></i><i class=c289></i><i class=c289></i><i class=c289></i></b><b style="height:9px"><i class=c274></i><i class=c339></i><i class=c202></i><i class=c219></i><i class=c263></i><i class=c285></i><i class=c192></i><i class=c361></i><i class=c203></i><i class=c218></i><i class=c350></i><i class=c275></i><i class=c217></i><i class=c204></i><i class=c348></i><i class=c253></i><i class=c222></i><i class=c336></i><i class=c321></i><i class=c205></i><i class=c305></i><i class=c191></i><i class=c191></i><i class=c223></i><i class=c223></i><i class=c279></i><i class=c216></i><i class=c206></i><i class=c224></i><i class=c255></i><i class=c190></i><i class=c249></i><i class=c309></i><i class=c251></i><i class=c160></i><i class=c246></i><i class=c282></i><i class=c225></i><i class=c158></i><i class=c158></i><i class=c158></i></b><b style="height:10px"><i class=c107></i><i class=c80></i><i class=c149></i><i class=c165></i><i class=c151></i><i class=c74></i><i class=c81></i><i class=c314></i><i class=c108></i><i class=c230></i><i class=c98></i><i class=c257></i><i class=c231></i><i class=c73></i><i class=c238></i><i class=c109></i><i class=c258></i><i class=c138></i><i class=c139></i><i class=c72></i><i class=c97></i><i class=c141></i><i class=c212></i><i class=c239></i><i class=c110></i><i class=c266></i><i class=c70></i><i class=c95></i><i class=c295></i><i class=c69></i><i class=c211></i><i class=c67></i><i class=c66></i><i class=c93></i><i class=c65></i><i class=c64></i><i class=c114></i><i class=c121></i><i class=c115></i><i class=c115></i><i class=c115></i></b><b style="height:9px"><i class=c213></i><i class=c213></i><i class=c213></i><i class=c213></i><i class=c213></i><i class=c213></i><i class=c213></i><i class=c213></i><i class=c213></i><i class=c312></i><i class=c138></i><i class=c212></i><i class=c96></i><i class=c70></i><i class=c136></i><i class=c111></i><i class=c240></i><i class=c135></i><i class=c68></i><i class=c184></i><i class=c113></i><i class=c259></i><i class=c66></i><i class=c66></i><i class=c129></i><i class=c93></i><i class=c133></i><i class=c65></i><i class=c65></i><i class=c64></i><i class=c119></i><i class=c127></i><i class=c118></i><i class=c116></i><i class=c126></i><i class=c132></i><i class=c89></i><i class=c313></i><i class=c123></i><i class=c123></i><i class=c123></i></b><b style="height:10px"><i class=c47></i><i class=c47></i><i class=c56></i><i class=c56></i><i class=c267></i><i class=c267></i><i class=c267></i><i class=c58></i><i class=c58></i><i class=c46></i><i class=c46></i><i class=c46></i><i class=c55></i><i class=c55></i><i class=c57></i><i class=c57></i><i class=c57></i><i class=c45></i><i class=c45></i><i class=c52></i><i class=c52></i><i class=c52></i><i class=c52></i><i class=c52></i><i class=c52></i><i class=c54></i><i class=c54></i><i class=c54></i><i class=c54></i><i class=c44></i><i class=c44></i><i class=c44></i><i class=c53></i><i class=c53></i><i class=c53></i><i class=c53></i><i class=c62></i><i class=c62></i><i class=c62></i><i class=c63></i><i class=c63></i></b></div>
<svg width="2588" height="1600" viewBox="0 0 2588 1600" style="position:absolute;left:0;top:0">
<g shape-rendering="crispEdges">
<rect x="2186" y="160.00" width="117" height="10.30" fill="#f4f3ef"/>
<rect x="2186" y="170.00" width="117" height="10.30" fill="#f3f2ea"/>
<rect x="2186" y="180.00" width="117" height="10.30" fill="#f2f0e5"/>
<rect x="2186" y="190.00" width="117" height="10.30" fill="#f1efe0"/>
<rect x="2186" y="200.00" width="117" height="10.30" fill="#f0ecd9"/>
<rect x="2186" y="210.00" width="117" height="10.30" fill="#efead1"/>
<rect x="2186" y="220.00" width="117" height="10.30" fill="#eee7c9"/>
<rect x="2186" y="230.00" width="117" height="10.30" fill="#ede4c1"/>
<rect x="2186" y="240.00" width="117" height="10.30" fill="#ece1b8"/>
<rect x="2186" y="250.00" width="117" height="10.30" fill="#eadfb0"/>
<rect x="2186" y="260.00" width="117" height="10.30" fill="#e9dca8"/>
<rect x="2186" y="270.00" width="117" height="10.30" fill="#e8d9a0"/>
<rect x="2186" y="280.00" width="117" height="10.30" fill="#e7d698"/>
<rect x="2186" y="290.00" width="117" height="10.30" fill="#e6d390"/>
<rect x="2186" y="300.00" width="117" height="10.30" fill="#e5d18a"/>
<rect x="2186" y="310.00" width="117" height="10.30" fill="#e4ce86"/>
<rect x="2186" y="320.00" width="117" height="10.30" fill="#e4cc81"/>
<rect x="2186" y="330.00" width="117" height="10.30" fill="#e3ca7d"/>
<rect x="2186" y="340.00" width="117" height="10.30" fill="#e3c779"/>
<rect x="2186" y="350.00" width="117" height="10.30" fill="#e2c575"/>
<rect x="2186" y="360.00" width="117" height="10.30" fill="#e2c371"/>
<rect x="2186" y="370.00" width="117" height="10.30" fill="#e2c06d"/>
<rect x="2186" y="380.00" width="117" height="10.30" fill="#e2be69"/>
<rect x="2186" y="390.00" width="117" height="10.30" fill="#e2bc64"/>
<rect x="2186" y="400.00" width="117" height="10.30" fill="#e2ba60"/>
<rect x="2186" y="410.00" width="117" height="10.30" fill="#e2b75c"/>
<rect x="2186" y="420.00" width="117" height="10.30" fill="#e2b558"/>
<rect x="2186" y="430.00" width="117" height="10.30" fill="#e2b353"/>
<rect x="2186" y="440.00" width="117" height="10.30" fill="#e2b04f"/>
<rect x="2186" y="450.00" width="117" height="10.30" fill="#e2ae4a"/>
<rect x="2186" y="460.00" width="117" height="10.30" fill="#e2ab45"/>
<rect x="2186" y="470.00" width="117" height="10.30" fill="#e2a941"/>
<rect x="2186" y="480.00" width="117" height="10.30" fill="#e2a63e"/>
<rect x="2186" y="490.00" width="117" height="10.30" fill="#e1a33b"/>
<rect x="2186" y="500.00" width="117" height="10.30" fill="#e1a038"/>
<rect x="2186" y="510.00" width="117" height="10.30" fill="#e19d35"/>
<rect x="2186" y="520.00" width="117" height="10.30" fill="#e09a32"/>
<rect x="2186" y="530.00" width="117" height="10.30" fill="#e0972f"/>
<rect x="2186" y="540.00" width="117" height="10.30" fill="#e0952c"/>
<rect x="2186" y="550.00" width="117" height="10.30" fill="#e0932a"/>
<rect x="2186" y="560.00" width="117" height="10.30" fill="#e09128"/>
<rect x="2186" y="570.00" width="117" height="10.30" fill="#e08f26"/>
<rect x="2186" y="580.00" width="117" height="10.30" fill="#e08d24"/>
<rect x="2186" y="590.00" width="117" height="10.30" fill="#e08b22"/>
<rect x="2186" y="600.00" width="117" height="10.30" fill="#e08920"/>
<rect x="2186" y="610.00" width="117" height="10.30" fill="#e0871e"/>
<rect x="2186" y="620.00" width="117" height="10.30" fill="#df841d"/>
<rect x="2186" y="630.00" width="117" height="10.30" fill="#df821b"/>
<rect x="2186" y="640.00" width="117" height="10.30" fill="#de7f1a"/>
<rect x="2186" y="650.00" width="117" height="10.30" fill="#de7c19"/>
<rect x="2186" y="660.00" width="117" height="10.30" fill="#dd7a18"/>
<rect x="2186" y="670.00" width="117" height="10.30" fill="#dc7717"/>
<rect x="2186" y="680.00" width="117" height="10.30" fill="#dc7416"/>
<rect x="2186" y="690.00" width="117" height="10.30" fill="#db7216"/>
<rect x="2186" y="700.00" width="117" height="10.30" fill="#da6f15"/>
<rect x="2186" y="710.00" width="117" height="10.30" fill="#d96c15"/>
<rect x="2186" y="720.00" width="117" height="10.30" fill="#d86915"/>
<rect x="2186" y="730.00" width="117" height="10.30" fill="#d76614"/>
<rect x="2186" y="740.00" width="117" height="10.30" fill="#d76314"/>
<rect x="2186" y="750.00" width="117" height="10.30" fill="#d66014"/>
<rect x="2186" y="760.00" width="117" height="10.30" fill="#d55e14"/>
<rect x="2186" y="770.00" width="117" height="10.30" fill="#d45b14"/>
<rect x="2186" y="780.00" width="117" height="10.30" fill="#d35814"/>
<rect x="2186" y="790.00" width="117" height="10.30" fill="#d25614"/>
<rect x="2186" y="800.00" width="117" height="10.30" fill="#d15315"/>
<rect x="2186" y="810.00" width="117" height="10.30" fill="#cf5016"/>
<rect x="2186" y="820.00" width="117" height="10.30" fill="#cd4d18"/>
<rect x="2186" y="830.00" width="117" height="10.30" fill="#ca4a19"/>
<rect x="2186" y="840.00" width="117" height="10.30" fill="#c8471b"/>
<rect x="2186" y="850.00" width="117" height="10.30" fill="#c6451c"/>
<rect x="2186" y="860.00" width="117" height="10.30" fill="#c4421e"/>
<rect x="2186" y="870.00" width="117" height="10.30" fill="#c1401f"/>
<rect x="2186" y="880.00" width="117" height="10.30" fill="#be3e21"/>
<rect x="2186" y="890.00" width="117" height="10.30" fill="#bb3c23"/>
<rect x="2186" y="900.00" width="117" height="10.30" fill="#b83a25"/>
<rect x="2186" y="910.00" width="117" height="10.30" fill="#b53827"/>
<rect x="2186" y="920.00" width="117" height="10.30" fill="#b33629"/>
<rect x="2186" y="930.00" width="117" height="10.30" fill="#b0352a"/>
<rect x="2186" y="940.00" width="117" height="10.30" fill="#ae332c"/>
<rect x="2186" y="950.00" width="117" height="10.30" fill="#ab312e"/>
<rect x="2186" y="960.00" width="117" height="10.30" fill="#a9302f"/>
<rect x="2186" y="970.00" width="117" height="10.30" fill="#a72e31"/>
<rect x="2186" y="980.00" width="117" height="10.30" fill="#a42d33"/>
<rect x="2186" y="990.00" width="117" height="10.30" fill="#a02b34"/>
<rect x="2186" y="1000.00" width="117" height="10.30" fill="#9d2a36"/>
<rect x="2186" y="1010.00" width="117" height="10.30" fill="#9a2938"/>
<rect x="2186" y="1020.00" width="117" height="10.30" fill="#962839"/>
<rect x="2186" y="1030.00" width="117" height="10.30" fill="#93273b"/>
<rect x="2186" y="1040.00" width="117" height="10.30" fill="#90263d"/>
<rect x="2186" y="1050.00" width="117" height="10.30" fill="#8d253f"/>
<rect x="2186" y="1060.00" width="117" height="10.30" fill="#8a2442"/>
<rect x="2186" y="1070.00" width="117" height="10.30" fill="#872344"/>
<rect x="2186" y="1080.00" width="117" height="10.30" fill="#842246"/>
<rect x="2186" y="1090.00" width="117" height="10.30" fill="#822149"/>
<rect x="2186" y="1100.00" width="117" height="10.30" fill="#7e204a"/>
<rect x="2186" y="1110.00" width="117" height="10.30" fill="#7a1f4a"/>
<rect x="2186" y="1120.00" width="117" height="10.30" fill="#771e4a"/>
<rect x="2186" y="1130.00" width="117" height="10.30" fill="#731d4b"/>
<rect x="2186" y="1140.00" width="117" height="10.30" fill="#6f1c4b"/>
<rect x="2186" y="1150.00" width="117" height="10.30" fill="#6b1b4b"/>
<rect x="2186" y="1160.00" width="117" height="10.30" fill="#671a4b"/>
<rect x="2186" y="1170.00" width="117" height="10.30" fill="#62194a"/>
<rect x="2186" y="1180.00" width="117" height="10.30" fill="#5d1849"/>
<rect x="2186" y="1190.00" width="117" height="10.30" fill="#581748"/>
<rect x="2186" y="1200.00" width="117" height="10.30" fill="#531648"/>
<rect x="2186" y="1210.00" width="117" height="10.30" fill="#4d1547"/>
<rect x="2186" y="1220.00" width="117" height="10.30" fill="#471447"/>
<rect x="2186" y="1230.00" width="117" height="10.30" fill="#411346"/>
<rect x="2186" y="1240.00" width="117" height="10.30" fill="#3d1246"/>
<rect x="2186" y="1250.00" width="117" height="10.30" fill="#3a1147"/>
<rect x="2186" y="1260.00" width="117" height="10.30" fill="#371147"/>
<rect x="2186" y="1270.00" width="117" height="10.30" fill="#341048"/>
<rect x="2186" y="1280.00" width="117" height="10.30" fill="#311047"/>
<rect x="2186" y="1290.00" width="117" height="10.30" fill="#2d0e41"/>
<rect x="2186" y="1300.00" width="117" height="10.30" fill="#280d3a"/>
<rect x="2186" y="1310.00" width="117" height="10.30" fill="#240c35"/>
<rect x="2186" y="1320.00" width="117" height="10.30" fill="#210b30"/>
<rect x="2186" y="1330.00" width="117" height="10.30" fill="#1e0a2b"/>
<rect x="2186" y="1340.00" width="117" height="10.30" fill="#1b0a26"/>
<rect x="2186" y="1350.00" width="117" height="10.30" fill="#180822"/>
<rect x="2186" y="1360.00" width="117" height="10.30" fill="#15071e"/>
<rect x="2186" y="1370.00" width="117" height="10.30" fill="#12061a"/>
<rect x="2186" y="1380.00" width="117" height="10.30" fill="#100516"/>
<rect x="2186" y="1390.00" width="117" height="10.30" fill="#0e0412"/>
<rect x="2186" y="1400.00" width="117" height="10.30" fill="#0b040e"/>
<rect x="2186" y="1410.00" width="117" height="10.30" fill="#09030b"/>
<rect x="2186" y="1420.00" width="117" height="10.30" fill="#080309"/>
<rect x="2186" y="1430.00" width="117" height="10.30" fill="#060207"/>
</g>
<line x1="2241" x2="2303" y1="1375.4" y2="1375.4" stroke="#000" stroke-width="1.3"/>
<line x1="2241" x2="2303" y1="1121.4" y2="1121.4" stroke="#000" stroke-width="1.3"/>
<line x1="2241" x2="2303" y1="867.4" y2="867.4" stroke="#000" stroke-width="1.3"/>
<line x1="2241" x2="2303" y1="613.4" y2="613.4" stroke="#000" stroke-width="1.3"/>
<line x1="2241" x2="2303" y1="359.4" y2="359.4" stroke="#000" stroke-width="1.3"/>
<line x1="356" x2="356" y1="160" y2="1440" stroke="#efe6cf" stroke-width="2" stroke-dasharray="1 2"/>
<line x1="583" x2="583" y1="160" y2="1440" stroke="#efe6cf" stroke-width="2" stroke-dasharray="1 2"/>
<line x1="810" x2="810" y1="160" y2="1440" stroke="#efe6cf" stroke-width="2" stroke-dasharray="1 2"/>
<line x1="1037" x2="1037" y1="160" y2="1440" stroke="#efe6cf" stroke-width="2" stroke-dasharray="1 2"/>
<line x1="1265" x2="1265" y1="160" y2="1440" stroke="#efe6cf" stroke-width="2" stroke-dasharray="1 2"/>
<line x1="1492" x2="1492" y1="160" y2="1440" stroke="#efe6cf" stroke-width="2" stroke-dasharray="1 2"/>
<line x1="1719" x2="1719" y1="160" y2="1440" stroke="#efe6cf" stroke-width="2" stroke-dasharray="1 2"/>
<line x1="1946" x2="1946" y1="160" y2="1440" stroke="#efe6cf" stroke-width="2" stroke-dasharray="1 2"/>
<line x1="2173" x2="2173" y1="160" y2="1440" stroke="#efe6cf" stroke-width="2" stroke-dasharray="1 2"/>
<line x1="310" x2="2173" y1="1375" y2="1375" stroke="#efe6cf" stroke-width="2" stroke-dasharray="1 2"/>
<line x1="310" x2="2173" y1="1320" y2="1320" stroke="#efe6cf" stroke-width="2" stroke-dasharray="1 2"/>
<line x1="310" x2="2173" y1="1273" y2="1273" stroke="#efe6cf" stroke-width="2" stroke-dasharray="1 2"/>
<line x1="310" x2="2173" y1="1232" y2="1232" stroke="#efe6cf" stroke-width="2" stroke-dasharray="1 2"/>
<line x1="310" x2="2173" y1="1195" y2="1195" stroke="#efe6cf" stroke-width="2" stroke-dasharray="1 2"/>
<line x1="310" x2="2173" y1="950" y2="950" stroke="#efe6cf" stroke-width="2" stroke-dasharray="1 2"/>
<line x1="310" x2="2173" y1="807" y2="807" stroke="#efe6cf" stroke-width="2" stroke-dasharray="1 2"/>
<line x1="310" x2="2173" y1="706" y2="706" stroke="#efe6cf" stroke-width="2" stroke-dasharray="1 2"/>
<line x1="310" x2="2173" y1="627" y2="627" stroke="#efe6cf" stroke-width="2" stroke-dasharray="1 2"/>
<line x1="310" x2="2173" y1="563" y2="563" stroke="#efe6cf" stroke-width="2" stroke-dasharray="1 2"/>
<line x1="310" x2="2173" y1="509" y2="509" stroke="#efe6cf" stroke-width="2" stroke-dasharray="1 2"/>
<line x1="310" x2="2173" y1="462" y2="462" stroke="#efe6cf" stroke-width="2" stroke-dasharray="1 2"/>
<line x1="310" x2="2173" y1="420" y2="420" stroke="#efe6cf" stroke-width="2" stroke-dasharray="1 2"/>
<line x1="310" x2="2173" y1="383" y2="383" stroke="#efe6cf" stroke-width="2" stroke-dasharray="1 2"/>
<g stroke="#efe6cf" stroke-width="1" fill="none">
<line x1="310.5" x2="310.5" y1="160" y2="1441"/>
<line x1="310" x2="2173" y1="1440.5" y2="1440.5"/>
<line x1="310" x2="341" y1="1375.5" y2="1375.5"/>
<line x1="310" x2="341" y1="1320.5" y2="1320.5"/>
<line x1="310" x2="341" y1="1273.5" y2="1273.5"/>
<line x1="310" x2="341" y1="1232.5" y2="1232.5"/>
<line x1="310" x2="373" y1="1195.5" y2="1195.5"/>
<line x1="310" x2="341" y1="950.5" y2="950.5"/>
<line x1="310" x2="341" y1="807.5" y2="807.5"/>
<line x1="310" x2="341" y1="706.5" y2="706.5"/>
<line x1="310" x2="341" y1="627.5" y2="627.5"/>
<line x1="310" x2="341" y1="563.5" y2="563.5"/>
<line x1="310" x2="341" y1="509.5" y2="509.5"/>
<line x1="310" x2="341" y1="462.5" y2="462.5"/>
<line x1="310" x2="341" y1="420.5" y2="420.5"/>
<line x1="310" x2="373" y1="383.5" y2="383.5"/>
<line x1="356.5" x2="356.5" y1="1440" y2="1405"/>
<line x1="402.5" x2="402.5" y1="1440" y2="1422"/>
<line x1="447.5" x2="447.5" y1="1440" y2="1422"/>
<line x1="492.5" x2="492.5" y1="1440" y2="1422"/>
<line x1="538.5" x2="538.5" y1="1440" y2="1422"/>
<line x1="583.5" x2="583.5" y1="1440" y2="1405"/>
<line x1="629.5" x2="629.5" y1="1440" y2="1422"/>
<line x1="674.5" x2="674.5" y1="1440" y2="1422"/>
<line x1="719.5" x2="719.5" y1="1440" y2="1422"/>
<line x1="765.5" x2="765.5" y1="1440" y2="1422"/>
<line x1="810.5" x2="810.5" y1="1440" y2="1405"/>
<line x1="856.5" x2="856.5" y1="1440" y2="1422"/>
<line x1="901.5" x2="901.5" y1="1440" y2="1422"/>
<line x1="947.5" x2="947.5" y1="1440" y2="1422"/>
<line x1="992.5" x2="992.5" y1="1440" y2="1422"/>
<line x1="1037.5" x2="1037.5" y1="1440" y2="1405"/>
<line x1="1083.5" x2="1083.5" y1="1440" y2="1422"/>
<line x1="1128.5" x2="1128.5" y1="1440" y2="1422"/>
<line x1="1174.5" x2="1174.5" y1="1440" y2="1422"/>
<line x1="1219.5" x2="1219.5" y1="1440" y2="1422"/>
<line x1="1265.5" x2="1265.5" y1="1440" y2="1405"/>
<line x1="1310.5" x2="1310.5" y1="1440" y2="1422"/>
<line x1="1355.5" x2="1355.5" y1="1440" y2="1422"/>
<line x1="1401.5" x2="1401.5" y1="1440" y2="1422"/>
<line x1="1446.5" x2="1446.5" y1="1440" y2="1422"/>
<line x1="1492.5" x2="1492.5" y1="1440" y2="1405"/>
<line x1="1537.5" x2="1537.5" y1="1440" y2="1422"/>
<line x1="1582.5" x2="1582.5" y1="1440" y2="1422"/>
<line x1="1628.5" x2="1628.5" y1="1440" y2="1422"/>
<line x1="1673.5" x2="1673.5" y1="1440" y2="1422"/>
<line x1="1719.5" x2="1719.5" y1="1440" y2="1405"/>
<line x1="1764.5" x2="1764.5" y1="1440" y2="1422"/>
<line x1="1810.5" x2="1810.5" y1="1440" y2="1422"/>
<line x1="1855.5" x2="1855.5" y1="1440" y2="1422"/>
<line x1="1900.5" x2="1900.5" y1="1440" y2="1422"/>
<line x1="1946.5" x2="1946.5" y1="1440" y2="1405"/>
<line x1="1991.5" x2="1991.5" y1="1440" y2="1422"/>
<line x1="2037.5" x2="2037.5" y1="1440" y2="1422"/>
<line x1="2082.5" x2="2082.5" y1="1440" y2="1422"/>
<line x1="2127.5" x2="2127.5" y1="1440" y2="1422"/>
<line x1="2172.5" x2="2172.5" y1="1440" y2="1405"/>
</g>
<g fill="#efe6cf" font-family="Liberation Sans, sans-serif">
<text transform="translate(356.1,1492.3) scale(1,1.04)" font-size="52" text-anchor="middle">0.435</text>
<text transform="translate(583.2,1492.3) scale(1,1.04)" font-size="52" text-anchor="middle">0.44</text>
<text transform="translate(810.3,1492.3) scale(1,1.04)" font-size="52" text-anchor="middle">0.445</text>
<text transform="translate(1037.4,1492.3) scale(1,1.04)" font-size="52" text-anchor="middle">0.45</text>
<text transform="translate(1264.5,1492.3) scale(1,1.04)" font-size="52" text-anchor="middle">0.455</text>
<text transform="translate(1491.6,1492.3) scale(1,1.04)" font-size="52" text-anchor="middle">0.46</text>
<text transform="translate(1718.7,1492.3) scale(1,1.04)" font-size="52" text-anchor="middle">0.465</text>
<text transform="translate(1945.8,1492.3) scale(1,1.04)" font-size="52" text-anchor="middle">0.47</text>
<text transform="translate(2172.9,1492.3) scale(1,1.04)" font-size="52" text-anchor="middle">0.475</text>
<text transform="translate(291.8,406.0) scale(1,1.04)" font-size="52" text-anchor="end">10<tspan font-size="34" dy="-21.5">3</tspan></text>
<text transform="translate(291.8,586.1) scale(1,1.04)" font-size="52" text-anchor="end">6<tspan dx="-4">×</tspan>10<tspan font-size="34" dy="-21.5">2</tspan></text>
<text transform="translate(291.8,650.3) scale(1,1.04)" font-size="52" text-anchor="end">5<tspan dx="-4">×</tspan>10<tspan font-size="34" dy="-21.5">2</tspan></text>
<text transform="translate(291.8,729.0) scale(1,1.04)" font-size="52" text-anchor="end">4<tspan dx="-4">×</tspan>10<tspan font-size="34" dy="-21.5">2</tspan></text>
<text transform="translate(291.8,830.4) scale(1,1.04)" font-size="52" text-anchor="end">3<tspan dx="-4">×</tspan>10<tspan font-size="34" dy="-21.5">2</tspan></text>
<text transform="translate(291.8,973.3) scale(1,1.04)" font-size="52" text-anchor="end">2<tspan dx="-4">×</tspan>10<tspan font-size="34" dy="-21.5">2</tspan></text>
<text transform="translate(291.8,1217.6) scale(1,1.04)" font-size="52" text-anchor="end">10<tspan font-size="34" dy="-21.5">2</tspan></text>
<text transform="translate(292,1338.5) scale(1,1.04)" font-size="52" text-anchor="end">70</text>
<text transform="translate(292,1392.9) scale(1,1.04)" font-size="52" text-anchor="end">60</text>
<text transform="translate(2316.3,1393.0) scale(1,1.04)" font-size="52">0</text>
<text transform="translate(2316.3,1139.0) scale(1,1.04)" font-size="52">0.2</text>
<text transform="translate(2316.3,885.0) scale(1,1.04)" font-size="52">0.4</text>
<text transform="translate(2316.3,631.0) scale(1,1.04)" font-size="52">0.6</text>
<text transform="translate(2316.3,377.0) scale(1,1.04)" font-size="52">0.8</text>
<text transform="translate(945.8,80.5)" font-family="Liberation Serif, serif" font-size="87">ξ</text>
<text transform="translate(986,79) scale(1,1.09)" font-size="73">(</text>
<text transform="translate(1007.5,79.5)" font-family="Liberation Serif, serif" font-size="82">δ</text>
<text transform="translate(1067.9,79) scale(1,1.09)" font-size="73">t,</text>
<text transform="translate(1131.8,79) scale(1,1.09)" font-size="73">f),</text>
<text transform="translate(1222.5,79) scale(1,1.09)" font-size="73">Q</text>
<text transform="translate(1303.5,79) scale(1,1.09)" font-size="73">=</text>
<text transform="translate(1368.6,79) scale(1,1.09)" font-size="73">38.0731</text>
<text x="2176.5" y="1542.5" font-size="52" text-anchor="end">Time delay: t(L1) - t(H1) [s]</text>
<text transform="translate(158.3,155.7) rotate(-90)" font-size="52" text-anchor="end">Frequency [Hz]</text>
<text transform="translate(2463,200.7) rotate(-90)" font-size="52" text-anchor="end">Cross-correlation</text>
<text transform="translate(2464,158.8) rotate(-90)" font-family="Liberation Serif, serif" font-size="58" text-anchor="end">ξ</text>
</g>
</svg>
</body></html>
